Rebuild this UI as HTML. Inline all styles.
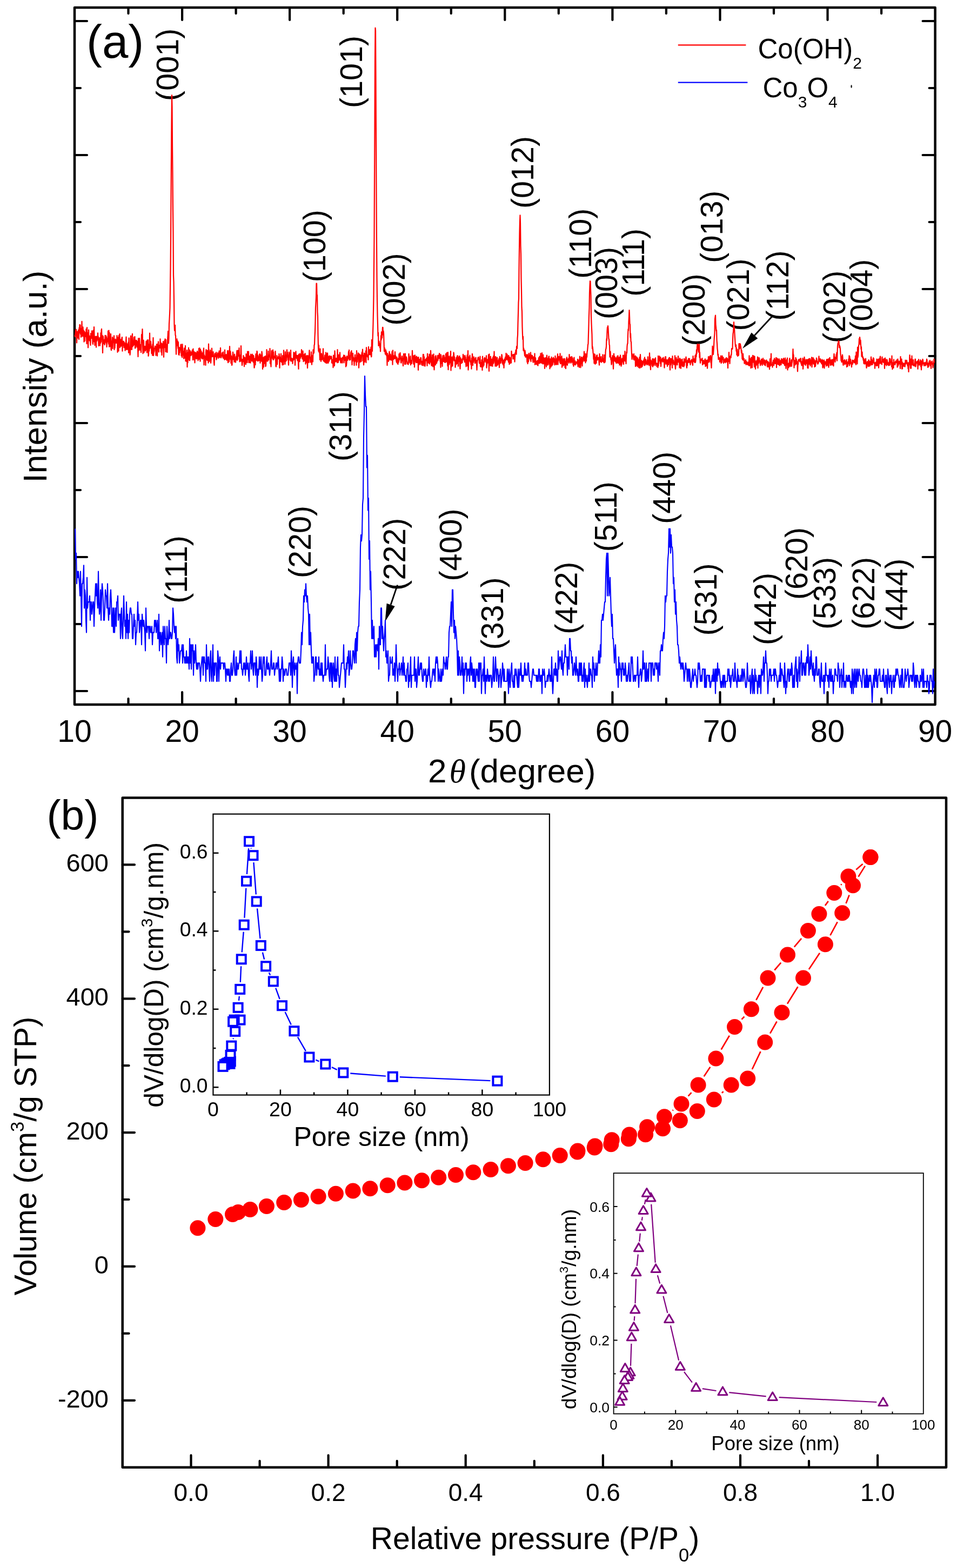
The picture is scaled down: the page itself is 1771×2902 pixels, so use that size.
<!DOCTYPE html>
<html><head><meta charset="utf-8"><title>XRD and BET</title>
<style>html,body{margin:0;padding:0;background:#fff}svg{display:block}</style></head>
<body><svg width="1771" height="2902" viewBox="0 0 1771 2902" font-family='"Liberation Sans", Arial, sans-serif' fill="#000">
<rect width="1771" height="2902" fill="#fff"/>
<rect x="138.0" y="14.0" width="1592.6" height="1290.0" fill="none" stroke="#000" stroke-width="4.5" stroke-linejoin="round"/>
<path d="M237.5 1304v-11M237.5 14v11M337.1 1304v-23M337.1 14v23M436.6 1304v-11M436.6 14v11M536.1 1304v-23M536.1 14v23M635.7 1304v-11M635.7 14v11M735.2 1304v-23M735.2 14v23M834.8 1304v-11M834.8 14v11M934.3 1304v-23M934.3 14v23M1033.8 1304v-11M1033.8 14v11M1133.4 1304v-23M1133.4 14v23M1232.9 1304v-11M1232.9 14v11M1332.5 1304v-23M1332.5 14v23M1432 1304v-11M1432 14v11M1531.5 1304v-23M1531.5 14v23M1631.1 1304v-11M1631.1 14v11M138 39h23M1730.6 39h-23M138 287h23M1730.6 287h-23M138 535h23M1730.6 535h-23M138 783h23M1730.6 783h-23M138 1031h23M1730.6 1031h-23M138 1279h23M1730.6 1279h-23M138 163h11M1730.6 163h-11M138 411h11M1730.6 411h-11M138 659h11M1730.6 659h-11M138 907h11M1730.6 907h-11M138 1155h11M1730.6 1155h-11" stroke="#000" stroke-width="4.2" fill="none" stroke-linecap="round"/>
<text x="138" y="1372.9" font-size="57" text-anchor="middle">10</text>
<text x="337.1" y="1372.9" font-size="57" text-anchor="middle">20</text>
<text x="536.1" y="1372.9" font-size="57" text-anchor="middle">30</text>
<text x="735.2" y="1372.9" font-size="57" text-anchor="middle">40</text>
<text x="934.3" y="1372.9" font-size="57" text-anchor="middle">50</text>
<text x="1133.4" y="1372.9" font-size="57" text-anchor="middle">60</text>
<text x="1332.5" y="1372.9" font-size="57" text-anchor="middle">70</text>
<text x="1531.5" y="1372.9" font-size="57" text-anchor="middle">80</text>
<text x="1730.6" y="1372.9" font-size="57" text-anchor="middle">90</text>
<text x="792" y="1448" font-size="62">2<tspan font-family="'Liberation Serif', serif" font-style="italic" dx="5">&#952;</tspan><tspan dx="6">(degree)</tspan></text>
<text transform="translate(86.4 697) rotate(-90)" font-size="62" text-anchor="middle">Intensity (a.u.)</text>
<text x="160" y="106.7" font-size="87">(a)</text>
<path d="M1254.8 83.3H1380.4" stroke="#f00" stroke-width="2.2"/>
<path d="M1254.8 152.7H1383.4" stroke="#00f" stroke-width="2.2"/>
<text x="1402.5" y="108.4" font-size="51">Co(OH)<tspan font-size="30" dy="19">2</tspan></text>
<ellipse cx="1575.6" cy="160" rx="1.2" ry="3" fill="#111"/>
<text x="1411.5" y="179.6" font-size="51">Co<tspan font-size="30" dy="19">3</tspan><tspan dy="-19">O</tspan><tspan font-size="30" dy="19">4</tspan></text>
<text transform="translate(329.7 119.8) rotate(-90)" font-size="57.5" text-anchor="middle">(001)</text>
<text transform="translate(670.4 133) rotate(-90)" font-size="57.5" text-anchor="middle">(101)</text>
<text transform="translate(602.3 455.2) rotate(-90)" font-size="57.5" text-anchor="middle">(100)</text>
<text transform="translate(748.8 535.5) rotate(-90)" font-size="57.5" text-anchor="middle">(002)</text>
<text transform="translate(986.9 319) rotate(-90)" font-size="57.5" text-anchor="middle">(012)</text>
<text transform="translate(1094.2 450.7) rotate(-90)" font-size="57.5" text-anchor="middle">(110)</text>
<text transform="translate(1142.4 524) rotate(-90)" font-size="57.5" text-anchor="middle">(003)</text>
<text transform="translate(1191.7 485.8) rotate(-90)" font-size="57.5" text-anchor="middle">(111)</text>
<text transform="translate(1303.5 573.5) rotate(-90)" font-size="57.5" text-anchor="middle">(200)</text>
<text transform="translate(1337.4 419.6) rotate(-90)" font-size="57.5" text-anchor="middle">(013)</text>
<text transform="translate(1385.5 545.4) rotate(-90)" font-size="57.5" text-anchor="middle">(021)</text>
<text transform="translate(1458.9 528.4) rotate(-90)" font-size="57.5" text-anchor="middle">(112)</text>
<text transform="translate(1563.5 567.8) rotate(-90)" font-size="57.5" text-anchor="middle">(202)</text>
<text transform="translate(1614.4 546.8) rotate(-90)" font-size="57.5" text-anchor="middle">(004)</text>
<text transform="translate(345.7 1054) rotate(-90)" font-size="57.5" text-anchor="middle">(111)</text>
<text transform="translate(575.1 1003) rotate(-90)" font-size="57.5" text-anchor="middle">(220)</text>
<text transform="translate(649.8 789) rotate(-90)" font-size="57.5" text-anchor="middle">(311)</text>
<text transform="translate(749.9 1025.8) rotate(-90)" font-size="57.5" text-anchor="middle">(222)</text>
<text transform="translate(853.7 1008.5) rotate(-90)" font-size="57.5" text-anchor="middle">(400)</text>
<text transform="translate(930.9 1135.5) rotate(-90)" font-size="57.5" text-anchor="middle">(331)</text>
<text transform="translate(1068.4 1106.6) rotate(-90)" font-size="57.5" text-anchor="middle">(422)</text>
<text transform="translate(1140.7 956.2) rotate(-90)" font-size="57.5" text-anchor="middle">(511)</text>
<text transform="translate(1248.9 902.7) rotate(-90)" font-size="57.5" text-anchor="middle">(440)</text>
<text transform="translate(1325.9 1109.4) rotate(-90)" font-size="57.5" text-anchor="middle">(531)</text>
<text transform="translate(1435.7 1127) rotate(-90)" font-size="57.5" text-anchor="middle">(442)</text>
<text transform="translate(1493.6 1043) rotate(-90)" font-size="57.5" text-anchor="middle">(620)</text>
<text transform="translate(1545.6 1098) rotate(-90)" font-size="57.5" text-anchor="middle">(533)</text>
<text transform="translate(1617.9 1098) rotate(-90)" font-size="57.5" text-anchor="middle">(622)</text>
<text transform="translate(1678.7 1100.7) rotate(-90)" font-size="57.5" text-anchor="middle">(444)</text>
<path d="M1429.7 584.7L1396.4 620.8" stroke="#000" stroke-width="2.8"/>
<path d="M1374.1 645.1L1390.6 615.4L1402.3 626.2Z" fill="#000"/>
<path d="M735.5 1082.6L723.1 1119.3" stroke="#000" stroke-width="2.8"/>
<path d="M712.6 1150.6L715.6 1116.8L730.7 1121.9Z" fill="#000"/>
<polyline points="138.5,620.0 139.0,623.2 139.5,617.2 140.0,610.8 140.5,615.4 141.0,609.8 141.5,620.9 142.0,634.4 142.5,615.2 143.0,613.9 143.5,625.6 144.0,624.2 144.5,621.6 145.0,610.9 145.5,620.3 146.0,628.0 146.5,606.7 147.0,616.0 147.5,600.9 148.0,607.4 148.5,601.7 149.0,618.5 149.5,607.8 150.0,623.9 150.5,622.7 151.0,619.2 151.5,594.9 152.0,615.6 152.5,620.8 153.0,622.5 153.5,605.4 154.0,616.4 154.5,611.3 155.0,613.1 155.5,632.6 156.0,613.2 156.5,621.3 157.0,630.9 157.5,615.6 158.0,620.6 158.5,623.0 159.0,622.5 159.5,609.2 160.0,622.7 160.5,636.2 161.0,606.2 161.5,631.3 162.0,623.7 162.5,616.0 163.0,643.5 163.5,630.8 164.0,610.6 164.5,624.0 165.0,629.3 165.5,621.5 166.0,630.7 166.5,623.0 167.0,630.8 167.5,638.9 168.0,617.1 168.5,626.4 169.0,619.6 169.5,625.9 170.0,612.4 170.5,618.8 171.0,622.9 171.5,634.4 172.0,637.1 172.5,611.7 173.0,617.3 173.5,632.3 174.0,605.2 174.5,621.1 175.0,625.1 175.5,639.2 176.0,633.4 176.5,623.1 177.0,622.8 177.5,624.2 178.0,642.6 178.5,622.6 179.0,624.0 179.5,630.9 180.0,626.2 180.5,625.5 181.0,616.3 181.5,627.7 182.0,623.4 182.5,640.1 183.0,635.0 183.5,628.1 184.0,635.4 184.5,625.2 185.0,639.6 185.5,628.9 186.0,635.1 186.5,616.0 187.0,632.9 187.5,612.2 188.0,608.8 188.5,626.6 189.0,620.7 189.5,631.7 190.0,653.1 190.5,621.8 191.0,624.1 191.5,632.7 192.0,635.8 192.5,629.1 193.0,628.9 193.5,638.3 194.0,636.6 194.5,620.9 195.0,630.7 195.5,632.0 196.0,621.1 196.5,634.6 197.0,623.3 197.5,642.1 198.0,634.3 198.5,633.4 199.0,626.6 199.5,631.6 200.0,612.6 200.5,621.5 201.0,636.7 201.5,611.5 202.0,641.8 202.5,615.5 203.0,641.0 203.5,624.8 204.0,641.3 204.5,634.8 205.0,618.0 205.5,646.3 206.0,648.3 206.5,633.1 207.0,631.1 207.5,632.3 208.0,624.1 208.5,645.2 209.0,628.6 209.5,633.6 210.0,626.2 210.5,628.0 211.0,621.4 211.5,647.1 212.0,632.9 212.5,644.3 213.0,634.8 213.5,627.7 214.0,631.4 214.5,629.2 215.0,635.0 215.5,631.2 216.0,632.0 216.5,621.2 217.0,627.0 217.5,651.9 218.0,628.5 218.5,624.7 219.0,638.8 219.5,649.7 220.0,620.9 220.5,633.5 221.0,629.3 221.5,618.0 222.0,643.2 222.5,635.6 223.0,636.6 223.5,628.4 224.0,640.6 224.5,630.7 225.0,634.8 225.5,625.1 226.0,624.1 226.5,649.8 227.0,631.4 227.5,639.4 228.0,636.2 228.5,632.2 229.0,631.6 229.5,643.1 230.0,633.8 230.5,635.4 231.0,637.2 231.5,648.8 232.0,643.9 232.5,641.0 233.0,631.6 233.5,623.5 234.0,646.9 234.5,647.1 235.0,636.1 235.5,643.0 236.0,645.4 236.5,646.0 237.0,647.0 237.5,633.3 238.0,653.0 238.5,625.5 239.0,646.6 239.5,643.0 240.0,646.8 240.5,656.9 241.0,653.1 241.5,626.9 242.0,621.6 242.5,646.6 243.0,628.4 243.5,638.5 244.0,647.0 244.5,622.4 245.0,617.8 245.5,641.4 246.0,639.3 246.5,636.5 247.0,639.4 247.5,630.5 248.0,624.1 248.5,637.6 249.0,629.6 249.5,623.0 250.0,644.4 250.5,638.9 251.0,643.6 251.5,629.8 252.0,633.1 252.5,629.8 253.0,631.0 253.5,641.8 254.0,632.2 254.5,643.5 255.0,643.4 255.5,660.1 256.0,626.4 256.5,649.0 257.0,639.4 257.5,640.2 258.0,626.1 258.5,635.9 259.0,647.9 259.5,639.8 260.0,641.5 260.5,637.8 261.0,652.2 261.5,640.6 262.0,619.2 262.5,634.1 263.0,621.6 263.5,609.0 264.0,635.8 264.5,654.3 265.0,641.6 265.5,629.7 266.0,632.0 266.5,652.4 267.0,642.9 267.5,641.9 268.0,640.9 268.5,641.9 269.0,649.5 269.5,647.0 270.0,643.8 270.5,631.5 271.0,646.8 271.5,635.1 272.0,652.6 272.5,629.4 273.0,640.6 273.5,641.9 274.0,629.1 274.5,659.0 275.0,656.4 275.5,637.6 276.0,649.8 276.5,646.0 277.0,616.7 277.5,644.8 278.0,641.8 278.5,643.2 279.0,631.9 279.5,639.9 280.0,640.8 280.5,654.2 281.0,645.9 281.5,642.6 282.0,657.6 282.5,637.3 283.0,639.0 283.5,625.1 284.0,658.1 284.5,652.3 285.0,651.8 285.5,649.4 286.0,644.0 286.5,645.1 287.0,640.5 287.5,641.0 288.0,643.6 288.5,657.8 289.0,648.5 289.5,642.5 290.0,637.4 290.5,636.9 291.0,658.7 291.5,648.0 292.0,643.7 292.5,639.7 293.0,632.3 293.5,642.4 294.0,651.5 294.5,639.2 295.0,640.8 295.5,640.8 296.0,644.0 296.5,627.4 297.0,640.5 297.5,634.4 298.0,651.3 298.5,635.1 299.0,648.1 299.5,657.3 300.0,639.2 300.5,636.3 301.0,643.9 301.5,641.8 302.0,632.0 302.5,646.0 303.0,660.9 303.5,638.4 304.0,638.7 304.5,630.1 305.0,643.1 305.5,627.3 306.0,628.2 306.5,651.0 307.0,628.9 307.5,647.7 308.0,651.2 308.5,637.8 309.0,639.5 309.5,652.1 310.0,629.1 310.5,623.2 311.0,613.2 311.5,624.4 312.0,635.5 312.5,625.6 313.0,599.4 313.5,591.0 314.0,581.1 314.5,569.7 315.0,534.4 315.5,497.8 316.0,443.7 316.5,366.8 317.0,294.8 317.5,229.2 318.0,176.0 318.5,197.8 319.0,269.6 319.5,320.3 320.0,387.0 320.5,429.9 321.0,510.4 321.5,522.0 322.0,556.9 322.5,600.8 323.0,611.8 323.5,611.5 324.0,601.9 324.5,620.3 325.0,621.0 325.5,637.1 326.0,655.7 326.5,637.6 327.0,629.6 327.5,627.4 328.0,639.7 328.5,639.8 329.0,631.4 329.5,644.8 330.0,633.4 330.5,656.1 331.0,656.3 331.5,657.2 332.0,643.0 332.5,653.0 333.0,647.4 333.5,645.6 334.0,646.5 334.5,638.1 335.0,637.3 335.5,658.4 336.0,649.8 336.5,653.9 337.0,661.4 337.5,637.0 338.0,646.0 338.5,655.0 339.0,657.3 339.5,650.7 340.0,663.6 340.5,656.6 341.0,644.4 341.5,647.2 342.0,662.7 342.5,660.0 343.0,639.8 343.5,668.2 344.0,662.0 344.5,668.7 345.0,654.1 345.5,655.0 346.0,648.0 346.5,679.3 347.0,656.2 347.5,671.3 348.0,652.3 348.5,659.3 349.0,643.7 349.5,654.7 350.0,666.4 350.5,647.5 351.0,667.3 351.5,661.1 352.0,649.4 352.5,654.0 353.0,654.4 353.5,658.0 354.0,653.9 354.5,651.4 355.0,655.9 355.5,649.8 356.0,647.7 356.5,658.2 357.0,666.1 357.5,645.7 358.0,658.7 358.5,653.3 359.0,650.5 359.5,666.0 360.0,654.5 360.5,671.5 361.0,652.3 361.5,662.2 362.0,657.1 362.5,652.6 363.0,664.0 363.5,657.8 364.0,664.2 364.5,658.7 365.0,650.0 365.5,658.3 366.0,659.7 366.5,667.3 367.0,651.6 367.5,659.0 368.0,644.8 368.5,664.8 369.0,650.3 369.5,644.2 370.0,658.9 370.5,668.7 371.0,646.7 371.5,650.4 372.0,653.3 372.5,650.1 373.0,662.8 373.5,652.8 374.0,653.6 374.5,664.5 375.0,653.3 375.5,663.3 376.0,651.6 376.5,649.6 377.0,644.4 377.5,675.4 378.0,657.1 378.5,661.9 379.0,659.6 379.5,661.2 380.0,660.3 380.5,675.9 381.0,651.3 381.5,647.0 382.0,651.5 382.5,648.9 383.0,666.3 383.5,666.9 384.0,652.1 384.5,648.5 385.0,657.2 385.5,671.7 386.0,636.7 386.5,664.6 387.0,651.2 387.5,668.9 388.0,651.3 388.5,657.9 389.0,647.8 389.5,652.2 390.0,671.8 390.5,667.2 391.0,657.0 391.5,653.2 392.0,644.7 392.5,657.1 393.0,660.2 393.5,659.8 394.0,659.7 394.5,651.2 395.0,660.0 395.5,660.2 396.0,671.2 396.5,676.0 397.0,659.5 397.5,654.3 398.0,660.1 398.5,655.6 399.0,654.5 399.5,660.2 400.0,652.1 400.5,665.7 401.0,659.9 401.5,662.8 402.0,659.3 402.5,654.8 403.0,653.0 403.5,658.9 404.0,656.3 404.5,662.8 405.0,660.9 405.5,649.7 406.0,661.5 406.5,649.9 407.0,655.9 407.5,658.6 408.0,643.9 408.5,661.8 409.0,662.3 409.5,659.8 410.0,657.6 410.5,658.0 411.0,653.1 411.5,658.9 412.0,656.6 412.5,661.9 413.0,651.3 413.5,663.2 414.0,662.4 414.5,660.1 415.0,657.7 415.5,665.8 416.0,647.7 416.5,665.1 417.0,663.3 417.5,663.7 418.0,664.5 418.5,656.1 419.0,659.3 419.5,666.7 420.0,665.0 420.5,663.2 421.0,649.1 421.5,665.9 422.0,671.1 422.5,669.8 423.0,663.5 423.5,648.9 424.0,669.3 424.5,660.4 425.0,641.0 425.5,664.7 426.0,649.5 426.5,651.1 427.0,656.5 427.5,672.1 428.0,658.7 428.5,664.0 429.0,676.0 429.5,674.8 430.0,661.0 430.5,659.9 431.0,651.6 431.5,656.2 432.0,665.4 432.5,665.1 433.0,662.8 433.5,670.0 434.0,655.7 434.5,661.5 435.0,667.9 435.5,666.8 436.0,670.7 436.5,665.3 437.0,659.6 437.5,665.0 438.0,654.0 438.5,648.9 439.0,666.8 439.5,661.7 440.0,664.7 440.5,648.5 441.0,659.3 441.5,657.4 442.0,655.3 442.5,644.1 443.0,659.6 443.5,669.5 444.0,665.4 444.5,657.5 445.0,662.2 445.5,668.5 446.0,640.1 446.5,661.4 447.0,666.8 447.5,667.9 448.0,676.2 448.5,671.6 449.0,665.0 449.5,664.9 450.0,668.9 450.5,658.2 451.0,662.2 451.5,669.9 452.0,678.3 452.5,661.3 453.0,662.3 453.5,664.3 454.0,673.5 454.5,662.4 455.0,674.5 455.5,655.0 456.0,661.3 456.5,661.2 457.0,669.1 457.5,671.2 458.0,650.7 458.5,655.5 459.0,665.5 459.5,657.6 460.0,650.7 460.5,671.2 461.0,666.8 461.5,666.8 462.0,659.1 462.5,671.1 463.0,661.0 463.5,671.7 464.0,655.6 464.5,656.1 465.0,664.6 465.5,657.3 466.0,668.3 466.5,665.0 467.0,655.6 467.5,663.5 468.0,660.2 468.5,670.3 469.0,657.9 469.5,659.5 470.0,672.6 470.5,680.8 471.0,678.9 471.5,663.5 472.0,664.7 472.5,675.2 473.0,662.0 473.5,655.2 474.0,663.9 474.5,666.6 475.0,656.4 475.5,649.9 476.0,651.6 476.5,668.3 477.0,657.0 477.5,661.9 478.0,664.7 478.5,667.9 479.0,660.4 479.5,667.0 480.0,656.0 480.5,660.2 481.0,654.9 481.5,672.0 482.0,662.9 482.5,657.2 483.0,660.3 483.5,661.3 484.0,668.6 484.5,650.5 485.0,654.9 485.5,660.1 486.0,683.1 486.5,670.6 487.0,662.2 487.5,668.7 488.0,679.3 488.5,661.3 489.0,660.2 489.5,672.7 490.0,667.0 490.5,668.4 491.0,659.1 491.5,678.3 492.0,676.6 492.5,667.6 493.0,668.5 493.5,647.2 494.0,668.2 494.5,661.6 495.0,666.6 495.5,668.5 496.0,660.5 496.5,649.9 497.0,666.1 497.5,657.4 498.0,660.6 498.5,658.4 499.0,660.5 499.5,645.1 500.0,672.7 500.5,665.2 501.0,671.9 501.5,678.7 502.0,663.4 502.5,649.1 503.0,656.2 503.5,653.8 504.0,659.3 504.5,663.9 505.0,647.6 505.5,665.9 506.0,651.4 506.5,665.6 507.0,662.4 507.5,660.8 508.0,662.7 508.5,659.0 509.0,658.5 509.5,650.1 510.0,663.0 510.5,677.6 511.0,678.7 511.5,673.6 512.0,668.8 512.5,658.0 513.0,674.5 513.5,662.8 514.0,662.8 514.5,661.0 515.0,664.0 515.5,659.9 516.0,662.7 516.5,654.9 517.0,660.4 517.5,681.0 518.0,662.8 518.5,661.5 519.0,667.4 519.5,668.8 520.0,654.7 520.5,661.7 521.0,670.4 521.5,665.4 522.0,664.3 522.5,675.4 523.0,658.1 523.5,664.0 524.0,659.3 524.5,674.9 525.0,648.3 525.5,658.2 526.0,659.3 526.5,668.5 527.0,668.0 527.5,674.1 528.0,651.2 528.5,669.2 529.0,661.1 529.5,658.2 530.0,667.5 530.5,656.3 531.0,647.4 531.5,660.5 532.0,651.8 532.5,658.4 533.0,666.2 533.5,665.8 534.0,675.6 534.5,661.8 535.0,651.6 535.5,657.6 536.0,656.3 536.5,654.0 537.0,666.7 537.5,658.4 538.0,648.2 538.5,668.7 539.0,662.5 539.5,666.1 540.0,664.2 540.5,668.2 541.0,663.7 541.5,672.9 542.0,666.6 542.5,666.4 543.0,666.5 543.5,652.2 544.0,662.1 544.5,661.4 545.0,665.0 545.5,653.0 546.0,675.9 546.5,664.2 547.0,654.1 547.5,650.3 548.0,661.2 548.5,662.7 549.0,657.9 549.5,664.0 550.0,658.4 550.5,667.5 551.0,657.8 551.5,663.0 552.0,670.8 552.5,682.9 553.0,655.6 553.5,659.7 554.0,656.9 554.5,669.2 555.0,654.5 555.5,659.6 556.0,663.0 556.5,655.8 557.0,655.9 557.5,659.6 558.0,647.2 558.5,652.2 559.0,660.0 559.5,664.3 560.0,661.7 560.5,649.6 561.0,659.5 561.5,669.1 562.0,667.2 562.5,662.4 563.0,656.2 563.5,667.7 564.0,658.5 564.5,654.0 565.0,656.7 565.5,673.8 566.0,664.4 566.5,671.5 567.0,659.0 567.5,669.7 568.0,657.9 568.5,661.2 569.0,681.2 569.5,668.1 570.0,658.4 570.5,661.4 571.0,664.4 571.5,671.0 572.0,658.0 572.5,648.4 573.0,659.3 573.5,661.3 574.0,661.8 574.5,670.7 575.0,662.9 575.5,666.3 576.0,651.4 576.5,665.9 577.0,674.8 577.5,664.2 578.0,659.5 578.5,657.9 579.0,669.4 579.5,647.3 580.0,651.8 580.5,653.9 581.0,652.7 581.5,638.6 582.0,637.7 582.5,623.6 583.0,614.5 583.5,596.7 584.0,569.3 584.5,559.7 585.0,550.4 585.5,524.5 586.0,524.5 586.5,545.4 587.0,546.2 587.5,577.3 588.0,585.2 588.5,620.1 589.0,642.6 589.5,649.8 590.0,639.2 590.5,651.9 591.0,650.7 591.5,653.1 592.0,666.0 592.5,645.6 593.0,664.7 593.5,657.2 594.0,668.9 594.5,660.3 595.0,654.3 595.5,661.9 596.0,665.7 596.5,660.8 597.0,664.5 597.5,657.2 598.0,645.3 598.5,668.2 599.0,666.9 599.5,663.0 600.0,662.5 600.5,669.9 601.0,658.8 601.5,657.1 602.0,661.1 602.5,671.4 603.0,652.3 603.5,671.6 604.0,658.0 604.5,654.7 605.0,672.3 605.5,662.3 606.0,653.4 606.5,660.4 607.0,670.0 607.5,672.0 608.0,660.0 608.5,666.2 609.0,668.6 609.5,658.5 610.0,666.0 610.5,663.1 611.0,659.4 611.5,659.8 612.0,663.9 612.5,663.7 613.0,659.3 613.5,660.4 614.0,671.7 614.5,665.1 615.0,670.1 615.5,672.4 616.0,667.9 616.5,680.3 617.0,657.6 617.5,669.6 618.0,661.3 618.5,677.3 619.0,676.2 619.5,649.3 620.0,656.6 620.5,668.6 621.0,669.5 621.5,669.2 622.0,663.2 622.5,667.1 623.0,668.6 623.5,663.2 624.0,671.3 624.5,647.2 625.0,668.4 625.5,656.2 626.0,670.8 626.5,662.2 627.0,657.3 627.5,666.6 628.0,657.2 628.5,657.2 629.0,652.4 629.5,663.7 630.0,667.5 630.5,671.3 631.0,662.8 631.5,671.5 632.0,664.0 632.5,663.2 633.0,668.1 633.5,671.6 634.0,661.4 634.5,662.1 635.0,662.7 635.5,664.5 636.0,657.3 636.5,671.4 637.0,661.0 637.5,667.3 638.0,657.9 638.5,666.5 639.0,666.7 639.5,660.8 640.0,678.6 640.5,666.6 641.0,676.8 641.5,670.8 642.0,659.1 642.5,661.1 643.0,667.0 643.5,664.3 644.0,664.2 644.5,661.8 645.0,650.8 645.5,662.2 646.0,647.8 646.5,666.5 647.0,658.6 647.5,658.7 648.0,662.2 648.5,665.8 649.0,653.5 649.5,651.2 650.0,656.1 650.5,649.1 651.0,656.8 651.5,675.3 652.0,656.1 652.5,668.5 653.0,653.9 653.5,665.9 654.0,661.4 654.5,663.3 655.0,667.8 655.5,676.3 656.0,665.1 656.5,664.5 657.0,656.6 657.5,667.8 658.0,661.8 658.5,669.5 659.0,663.2 659.5,676.0 660.0,649.2 660.5,661.3 661.0,669.8 661.5,660.9 662.0,657.7 662.5,661.4 663.0,653.4 663.5,664.1 664.0,680.8 664.5,671.4 665.0,655.2 665.5,656.9 666.0,660.2 666.5,670.2 667.0,657.1 667.5,658.0 668.0,669.2 668.5,669.0 669.0,660.1 669.5,654.7 670.0,651.5 670.5,657.5 671.0,646.5 671.5,667.7 672.0,657.7 672.5,665.6 673.0,675.4 673.5,670.3 674.0,653.5 674.5,667.9 675.0,669.8 675.5,656.0 676.0,654.3 676.5,660.2 677.0,649.3 677.5,671.1 678.0,643.1 678.5,652.1 679.0,657.8 679.5,657.8 680.0,660.3 680.5,660.7 681.0,656.8 681.5,666.0 682.0,641.9 682.5,656.7 683.0,650.9 683.5,656.2 684.0,656.0 684.5,646.8 685.0,647.6 685.5,656.7 686.0,652.0 686.5,642.6 687.0,660.5 687.5,660.0 688.0,628.8 688.5,638.1 689.0,650.0 689.5,630.5 690.0,617.1 690.5,600.2 691.0,576.7 691.5,547.2 692.0,495.2 692.5,438.7 693.0,334.9 693.5,226.2 694.0,110.6 694.5,51.6 695.0,56.5 695.5,143.5 696.0,266.4 696.5,363.0 697.0,451.1 697.5,514.2 698.0,556.1 698.5,583.9 699.0,601.2 699.5,621.7 700.0,615.6 700.5,639.9 701.0,634.3 701.5,631.7 702.0,636.0 702.5,636.4 703.0,643.5 703.5,637.3 704.0,650.5 704.5,634.9 705.0,621.2 705.5,629.0 706.0,614.4 706.5,623.4 707.0,625.4 707.5,615.9 708.0,605.8 708.5,605.8 709.0,619.4 709.5,612.6 710.0,617.1 710.5,632.6 711.0,650.2 711.5,647.7 712.0,644.4 712.5,650.2 713.0,655.4 713.5,649.0 714.0,647.7 714.5,657.0 715.0,651.0 715.5,658.1 716.0,659.8 716.5,676.2 717.0,654.1 717.5,659.7 718.0,659.7 718.5,664.2 719.0,668.8 719.5,658.2 720.0,656.1 720.5,650.6 721.0,655.8 721.5,666.2 722.0,662.9 722.5,655.6 723.0,660.2 723.5,663.2 724.0,666.6 724.5,659.0 725.0,661.5 725.5,650.7 726.0,655.4 726.5,674.8 727.0,648.4 727.5,661.3 728.0,665.3 728.5,661.2 729.0,658.3 729.5,663.5 730.0,664.0 730.5,663.5 731.0,651.1 731.5,663.1 732.0,658.3 732.5,660.4 733.0,665.9 733.5,668.8 734.0,670.6 734.5,661.0 735.0,670.8 735.5,672.6 736.0,672.4 736.5,674.2 737.0,663.6 737.5,663.4 738.0,670.4 738.5,655.2 739.0,666.2 739.5,661.1 740.0,662.2 740.5,652.8 741.0,658.7 741.5,664.7 742.0,671.0 742.5,671.7 743.0,664.4 743.5,663.6 744.0,659.2 744.5,667.7 745.0,663.3 745.5,669.2 746.0,677.1 746.5,664.8 747.0,654.8 747.5,659.2 748.0,655.1 748.5,656.9 749.0,674.1 749.5,666.7 750.0,654.7 750.5,669.7 751.0,673.9 751.5,662.8 752.0,660.6 752.5,663.0 753.0,667.2 753.5,669.7 754.0,673.4 754.5,673.7 755.0,673.5 755.5,674.7 756.0,669.9 756.5,654.9 757.0,664.5 757.5,667.6 758.0,662.8 758.5,671.7 759.0,663.0 759.5,659.1 760.0,675.4 760.5,670.1 761.0,667.0 761.5,671.9 762.0,672.8 762.5,667.9 763.0,648.8 763.5,661.0 764.0,662.5 764.5,658.9 765.0,667.0 765.5,673.8 766.0,662.3 766.5,657.9 767.0,679.5 767.5,662.6 768.0,657.3 768.5,667.3 769.0,668.6 769.5,660.9 770.0,671.1 770.5,662.4 771.0,659.5 771.5,667.0 772.0,671.0 772.5,661.5 773.0,668.0 773.5,665.2 774.0,685.0 774.5,661.0 775.0,675.3 775.5,665.5 776.0,665.0 776.5,670.8 777.0,672.0 777.5,674.5 778.0,668.1 778.5,661.8 779.0,662.3 779.5,669.4 780.0,669.9 780.5,675.4 781.0,668.8 781.5,673.2 782.0,676.3 782.5,667.1 783.0,655.9 783.5,658.0 784.0,656.3 784.5,676.8 785.0,660.3 785.5,674.4 786.0,670.0 786.5,677.7 787.0,672.9 787.5,665.4 788.0,664.7 788.5,666.7 789.0,667.3 789.5,662.5 790.0,665.9 790.5,677.0 791.0,654.6 791.5,667.9 792.0,660.0 792.5,667.4 793.0,671.9 793.5,665.8 794.0,671.4 794.5,655.5 795.0,673.7 795.5,662.2 796.0,670.4 796.5,667.5 797.0,648.8 797.5,661.2 798.0,667.8 798.5,676.8 799.0,668.2 799.5,668.0 800.0,656.8 800.5,675.9 801.0,678.5 801.5,666.5 802.0,664.9 802.5,655.4 803.0,672.3 803.5,684.5 804.0,671.2 804.5,674.9 805.0,670.0 805.5,659.8 806.0,675.4 806.5,658.1 807.0,665.0 807.5,668.3 808.0,672.4 808.5,669.2 809.0,669.0 809.5,661.4 810.0,657.8 810.5,666.9 811.0,661.7 811.5,657.7 812.0,658.0 812.5,663.2 813.0,654.1 813.5,657.5 814.0,655.6 814.5,667.8 815.0,669.3 815.5,680.0 816.0,656.5 816.5,662.0 817.0,672.7 817.5,665.1 818.0,664.4 818.5,678.0 819.0,664.4 819.5,658.9 820.0,657.8 820.5,668.9 821.0,668.7 821.5,657.5 822.0,660.1 822.5,670.2 823.0,670.5 823.5,662.4 824.0,670.8 824.5,670.5 825.0,654.8 825.5,664.6 826.0,669.5 826.5,662.9 827.0,652.5 827.5,664.9 828.0,671.8 828.5,677.3 829.0,652.2 829.5,684.2 830.0,659.3 830.5,673.2 831.0,675.0 831.5,673.3 832.0,667.8 832.5,659.1 833.0,671.0 833.5,662.1 834.0,650.1 834.5,685.6 835.0,671.6 835.5,678.9 836.0,660.8 836.5,676.6 837.0,677.4 837.5,677.2 838.0,666.8 838.5,658.9 839.0,665.7 839.5,652.3 840.0,655.7 840.5,667.6 841.0,660.4 841.5,665.9 842.0,666.2 842.5,679.8 843.0,675.6 843.5,666.7 844.0,675.0 844.5,661.8 845.0,664.8 845.5,673.0 846.0,658.8 846.5,665.2 847.0,658.3 847.5,667.8 848.0,677.8 848.5,662.1 849.0,668.6 849.5,661.1 850.0,659.5 850.5,658.9 851.0,676.7 851.5,682.7 852.0,670.3 852.5,662.4 853.0,671.8 853.5,664.9 854.0,672.4 854.5,669.1 855.0,669.0 855.5,671.2 856.0,663.3 856.5,664.5 857.0,655.8 857.5,664.3 858.0,657.8 858.5,666.2 859.0,660.9 859.5,667.9 860.0,670.2 860.5,657.9 861.0,661.9 861.5,661.0 862.0,672.2 862.5,678.5 863.0,672.9 863.5,665.0 864.0,676.9 864.5,657.3 865.0,677.1 865.5,663.0 866.0,649.1 866.5,684.7 867.0,677.7 867.5,660.6 868.0,668.4 868.5,665.9 869.0,668.0 869.5,657.6 870.0,662.9 870.5,670.4 871.0,668.8 871.5,675.2 872.0,667.9 872.5,682.8 873.0,662.7 873.5,669.1 874.0,654.9 874.5,659.2 875.0,676.1 875.5,661.3 876.0,670.9 876.5,667.0 877.0,660.6 877.5,665.2 878.0,664.1 878.5,664.3 879.0,672.4 879.5,671.7 880.0,663.7 880.5,661.6 881.0,669.3 881.5,666.8 882.0,674.2 882.5,684.8 883.0,673.0 883.5,667.3 884.0,666.4 884.5,662.0 885.0,661.6 885.5,661.0 886.0,665.0 886.5,664.8 887.0,672.4 887.5,665.0 888.0,666.3 888.5,659.7 889.0,678.3 889.5,670.9 890.0,679.2 890.5,672.8 891.0,677.3 891.5,666.0 892.0,672.3 892.5,685.2 893.0,659.7 893.5,675.3 894.0,678.6 894.5,670.4 895.0,672.6 895.5,675.9 896.0,663.3 896.5,670.4 897.0,661.9 897.5,663.2 898.0,663.6 898.5,666.7 899.0,668.6 899.5,670.7 900.0,658.3 900.5,680.8 901.0,675.3 901.5,672.5 902.0,665.3 902.5,667.1 903.0,671.3 903.5,670.4 904.0,656.5 904.5,672.6 905.0,687.0 905.5,655.4 906.0,674.2 906.5,670.1 907.0,666.9 907.5,676.7 908.0,659.8 908.5,668.7 909.0,677.3 909.5,666.3 910.0,664.9 910.5,668.4 911.0,664.7 911.5,677.9 912.0,661.6 912.5,673.4 913.0,659.3 913.5,672.0 914.0,666.9 914.5,650.5 915.0,667.5 915.5,660.5 916.0,664.6 916.5,677.7 917.0,660.2 917.5,660.5 918.0,677.1 918.5,668.3 919.0,677.7 919.5,669.7 920.0,661.7 920.5,667.1 921.0,675.6 921.5,673.7 922.0,667.5 922.5,667.8 923.0,666.7 923.5,663.6 924.0,680.2 924.5,667.5 925.0,659.9 925.5,664.2 926.0,672.1 926.5,671.6 927.0,666.4 927.5,662.9 928.0,667.4 928.5,656.2 929.0,658.7 929.5,672.5 930.0,664.0 930.5,669.6 931.0,675.2 931.5,671.4 932.0,667.2 932.5,681.0 933.0,671.4 933.5,664.6 934.0,671.7 934.5,669.6 935.0,661.2 935.5,667.3 936.0,665.7 936.5,653.8 937.0,665.5 937.5,664.7 938.0,663.7 938.5,655.7 939.0,664.1 939.5,666.1 940.0,666.9 940.5,658.7 941.0,670.2 941.5,658.0 942.0,664.4 942.5,674.3 943.0,661.1 943.5,662.1 944.0,672.4 944.5,662.7 945.0,663.1 945.5,666.3 946.0,671.6 946.5,649.9 947.0,658.7 947.5,657.3 948.0,656.5 948.5,657.7 949.0,657.4 949.5,664.5 950.0,656.2 950.5,662.4 951.0,663.7 951.5,655.6 952.0,660.6 952.5,669.7 953.0,660.1 953.5,652.6 954.0,655.1 954.5,647.9 955.0,653.9 955.5,655.6 956.0,641.2 956.5,641.3 957.0,645.0 957.5,626.2 958.0,620.7 958.5,597.8 959.0,580.7 959.5,559.6 960.0,553.0 960.5,499.2 961.0,463.3 961.5,430.2 962.0,409.7 962.5,398.3 963.0,413.1 963.5,454.5 964.0,469.9 964.5,515.0 965.0,537.5 965.5,568.4 966.0,576.3 966.5,604.5 967.0,619.0 967.5,628.1 968.0,622.8 968.5,648.7 969.0,644.3 969.5,647.0 970.0,650.5 970.5,652.6 971.0,658.3 971.5,648.7 972.0,652.1 972.5,660.9 973.0,660.8 973.5,658.1 974.0,657.5 974.5,656.4 975.0,661.9 975.5,670.2 976.0,656.4 976.5,673.1 977.0,669.2 977.5,661.2 978.0,669.3 978.5,655.4 979.0,653.9 979.5,656.9 980.0,662.7 980.5,663.4 981.0,662.3 981.5,666.4 982.0,652.4 982.5,669.1 983.0,657.2 983.5,662.1 984.0,663.7 984.5,659.2 985.0,657.9 985.5,660.3 986.0,666.6 986.5,670.5 987.0,670.4 987.5,660.7 988.0,662.0 988.5,661.3 989.0,669.9 989.5,654.4 990.0,674.9 990.5,664.2 991.0,662.4 991.5,669.4 992.0,673.8 992.5,669.5 993.0,674.0 993.5,668.3 994.0,675.2 994.5,675.3 995.0,667.0 995.5,676.6 996.0,668.7 996.5,668.2 997.0,662.0 997.5,665.9 998.0,672.6 998.5,659.6 999.0,671.8 999.5,670.0 1000.0,669.6 1000.5,654.2 1001.0,667.2 1001.5,671.9 1002.0,663.2 1002.5,668.5 1003.0,653.2 1003.5,672.1 1004.0,663.9 1004.5,673.4 1005.0,656.6 1005.5,672.3 1006.0,666.6 1006.5,673.1 1007.0,662.3 1007.5,664.3 1008.0,682.0 1008.5,663.0 1009.0,663.8 1009.5,666.4 1010.0,661.8 1010.5,675.5 1011.0,678.8 1011.5,663.8 1012.0,657.5 1012.5,675.5 1013.0,675.1 1013.5,673.3 1014.0,675.4 1014.5,662.9 1015.0,667.2 1015.5,659.7 1016.0,659.5 1016.5,674.3 1017.0,664.1 1017.5,682.4 1018.0,668.8 1018.5,664.4 1019.0,673.2 1019.5,679.4 1020.0,671.3 1020.5,660.8 1021.0,670.6 1021.5,676.8 1022.0,665.3 1022.5,663.6 1023.0,674.6 1023.5,669.2 1024.0,661.6 1024.5,666.0 1025.0,663.7 1025.5,670.2 1026.0,669.1 1026.5,675.5 1027.0,672.8 1027.5,658.8 1028.0,670.9 1028.5,673.9 1029.0,671.2 1029.5,674.8 1030.0,665.1 1030.5,662.6 1031.0,674.2 1031.5,661.9 1032.0,655.2 1032.5,674.7 1033.0,664.0 1033.5,666.6 1034.0,659.9 1034.5,660.3 1035.0,661.4 1035.5,666.3 1036.0,670.7 1036.5,654.4 1037.0,673.1 1037.5,661.2 1038.0,661.9 1038.5,672.6 1039.0,668.0 1039.5,659.1 1040.0,679.8 1040.5,663.2 1041.0,670.0 1041.5,669.7 1042.0,677.1 1042.5,665.7 1043.0,674.7 1043.5,663.9 1044.0,675.4 1044.5,663.8 1045.0,666.3 1045.5,680.1 1046.0,670.4 1046.5,669.2 1047.0,682.2 1047.5,670.7 1048.0,663.5 1048.5,673.0 1049.0,661.3 1049.5,675.4 1050.0,675.8 1050.5,665.0 1051.0,664.6 1051.5,669.5 1052.0,668.5 1052.5,662.5 1053.0,671.9 1053.5,656.0 1054.0,665.8 1054.5,666.0 1055.0,666.8 1055.5,670.3 1056.0,660.9 1056.5,672.0 1057.0,667.3 1057.5,664.4 1058.0,660.0 1058.5,661.2 1059.0,670.5 1059.5,662.5 1060.0,668.7 1060.5,674.8 1061.0,674.6 1061.5,677.8 1062.0,666.5 1062.5,661.6 1063.0,674.4 1063.5,670.1 1064.0,675.0 1064.5,668.2 1065.0,675.4 1065.5,673.3 1066.0,672.5 1066.5,671.1 1067.0,670.5 1067.5,669.4 1068.0,669.3 1068.5,674.0 1069.0,664.8 1069.5,678.4 1070.0,667.2 1070.5,673.8 1071.0,667.2 1071.5,666.2 1072.0,680.0 1072.5,665.7 1073.0,659.7 1073.5,663.0 1074.0,665.4 1074.5,680.3 1075.0,668.4 1075.5,672.7 1076.0,660.8 1076.5,668.9 1077.0,670.7 1077.5,677.4 1078.0,662.1 1078.5,669.8 1079.0,667.8 1079.5,659.5 1080.0,665.3 1080.5,663.5 1081.0,650.6 1081.5,668.1 1082.0,667.3 1082.5,660.8 1083.0,654.7 1083.5,671.4 1084.0,663.1 1084.5,666.8 1085.0,668.1 1085.5,654.7 1086.0,661.0 1086.5,651.8 1087.0,649.3 1087.5,644.1 1088.0,637.9 1088.5,636.2 1089.0,618.1 1089.5,601.7 1090.0,583.8 1090.5,569.7 1091.0,541.7 1091.5,529.1 1092.0,520.0 1092.5,521.0 1093.0,534.8 1093.5,547.5 1094.0,585.6 1094.5,598.8 1095.0,609.0 1095.5,619.4 1096.0,645.2 1096.5,641.4 1097.0,645.2 1097.5,652.3 1098.0,655.7 1098.5,665.0 1099.0,658.0 1099.5,672.4 1100.0,655.2 1100.5,665.8 1101.0,656.1 1101.5,673.9 1102.0,661.4 1102.5,663.5 1103.0,669.9 1103.5,672.2 1104.0,658.2 1104.5,663.1 1105.0,657.0 1105.5,666.4 1106.0,665.2 1106.5,663.8 1107.0,661.9 1107.5,663.9 1108.0,661.8 1108.5,669.5 1109.0,675.6 1109.5,654.8 1110.0,665.8 1110.5,664.0 1111.0,669.5 1111.5,660.8 1112.0,665.6 1112.5,660.2 1113.0,670.6 1113.5,666.9 1114.0,665.3 1114.5,668.4 1115.0,664.5 1115.5,656.4 1116.0,669.2 1116.5,667.1 1117.0,664.1 1117.5,670.5 1118.0,671.4 1118.5,656.8 1119.0,657.7 1119.5,670.6 1120.0,668.1 1120.5,652.5 1121.0,646.5 1121.5,645.5 1122.0,640.9 1122.5,627.2 1123.0,629.9 1123.5,613.1 1124.0,605.8 1124.5,614.5 1125.0,603.0 1125.5,607.9 1126.0,618.3 1126.5,627.1 1127.0,627.7 1127.5,637.8 1128.0,639.0 1128.5,660.6 1129.0,658.0 1129.5,650.5 1130.0,659.8 1130.5,665.8 1131.0,665.7 1131.5,674.8 1132.0,672.7 1132.5,661.8 1133.0,664.9 1133.5,658.1 1134.0,667.6 1134.5,667.3 1135.0,682.8 1135.5,667.4 1136.0,654.5 1136.5,663.1 1137.0,667.9 1137.5,659.9 1138.0,662.3 1138.5,665.3 1139.0,669.6 1139.5,666.7 1140.0,662.4 1140.5,672.4 1141.0,664.6 1141.5,664.9 1142.0,659.7 1142.5,663.2 1143.0,671.8 1143.5,658.3 1144.0,667.5 1144.5,672.2 1145.0,665.7 1145.5,669.3 1146.0,661.2 1146.5,675.6 1147.0,674.4 1147.5,669.2 1148.0,657.3 1148.5,661.5 1149.0,673.4 1149.5,677.7 1150.0,669.2 1150.5,674.8 1151.0,663.7 1151.5,666.0 1152.0,667.0 1152.5,669.4 1153.0,657.6 1153.5,672.1 1154.0,674.1 1154.5,659.2 1155.0,657.6 1155.5,667.4 1156.0,661.0 1156.5,650.2 1157.0,668.5 1157.5,663.8 1158.0,659.0 1158.5,673.2 1159.0,659.5 1159.5,651.5 1160.0,653.1 1160.5,641.2 1161.0,636.6 1161.5,635.8 1162.0,619.9 1162.5,609.3 1163.0,611.7 1163.5,595.1 1164.0,586.5 1164.5,574.0 1165.0,584.2 1165.5,599.3 1166.0,600.3 1166.5,624.7 1167.0,617.4 1167.5,631.8 1168.0,632.8 1168.5,645.7 1169.0,655.8 1169.5,665.0 1170.0,654.8 1170.5,660.7 1171.0,660.0 1171.5,658.8 1172.0,656.9 1172.5,665.0 1173.0,654.9 1173.5,666.3 1174.0,666.1 1174.5,662.5 1175.0,660.7 1175.5,658.7 1176.0,678.1 1176.5,659.4 1177.0,676.7 1177.5,671.2 1178.0,665.7 1178.5,661.1 1179.0,674.2 1179.5,678.3 1180.0,662.8 1180.5,666.6 1181.0,674.6 1181.5,670.5 1182.0,680.3 1182.5,665.3 1183.0,671.9 1183.5,661.4 1184.0,681.1 1184.5,664.6 1185.0,656.0 1185.5,668.2 1186.0,668.2 1186.5,680.2 1187.0,667.1 1187.5,669.0 1188.0,672.6 1188.5,678.4 1189.0,668.8 1189.5,675.3 1190.0,672.2 1190.5,667.5 1191.0,669.7 1191.5,669.5 1192.0,664.0 1192.5,676.4 1193.0,661.3 1193.5,676.2 1194.0,674.9 1194.5,668.9 1195.0,665.0 1195.5,668.1 1196.0,672.2 1196.5,673.8 1197.0,671.2 1197.5,675.3 1198.0,666.3 1198.5,670.9 1199.0,660.4 1199.5,674.0 1200.0,670.5 1200.5,667.2 1201.0,676.3 1201.5,673.6 1202.0,653.3 1202.5,669.8 1203.0,661.2 1203.5,675.8 1204.0,684.1 1204.5,666.6 1205.0,670.1 1205.5,668.2 1206.0,671.7 1206.5,673.4 1207.0,677.1 1207.5,664.0 1208.0,678.8 1208.5,664.3 1209.0,671.3 1209.5,676.4 1210.0,673.8 1210.5,664.3 1211.0,665.7 1211.5,667.1 1212.0,669.4 1212.5,676.4 1213.0,662.3 1213.5,672.4 1214.0,673.3 1214.5,673.0 1215.0,672.5 1215.5,678.5 1216.0,672.6 1216.5,674.7 1217.0,673.0 1217.5,680.1 1218.0,658.8 1218.5,677.2 1219.0,668.3 1219.5,668.2 1220.0,664.2 1220.5,659.0 1221.0,667.6 1221.5,665.8 1222.0,672.7 1222.5,661.3 1223.0,678.1 1223.5,671.4 1224.0,668.4 1224.5,665.7 1225.0,665.3 1225.5,663.3 1226.0,666.7 1226.5,669.9 1227.0,668.8 1227.5,661.7 1228.0,668.3 1228.5,664.7 1229.0,670.8 1229.5,680.6 1230.0,673.4 1230.5,668.1 1231.0,660.5 1231.5,661.7 1232.0,660.2 1232.5,674.0 1233.0,665.5 1233.5,670.2 1234.0,666.3 1234.5,670.4 1235.0,677.9 1235.5,666.0 1236.0,667.9 1236.5,665.3 1237.0,674.9 1237.5,664.0 1238.0,663.4 1238.5,661.9 1239.0,661.8 1239.5,672.6 1240.0,684.6 1240.5,664.2 1241.0,675.3 1241.5,671.3 1242.0,663.6 1242.5,668.3 1243.0,668.6 1243.5,666.0 1244.0,680.9 1244.5,659.0 1245.0,672.1 1245.5,671.8 1246.0,666.6 1246.5,670.8 1247.0,674.9 1247.5,670.8 1248.0,672.3 1248.5,673.9 1249.0,658.3 1249.5,678.3 1250.0,682.9 1250.5,675.5 1251.0,675.7 1251.5,661.9 1252.0,669.2 1252.5,665.3 1253.0,666.6 1253.5,675.4 1254.0,665.3 1254.5,669.2 1255.0,659.0 1255.5,669.0 1256.0,670.4 1256.5,665.9 1257.0,665.8 1257.5,680.6 1258.0,663.0 1258.5,663.9 1259.0,665.3 1259.5,676.7 1260.0,681.8 1260.5,671.8 1261.0,665.8 1261.5,667.4 1262.0,675.9 1262.5,664.7 1263.0,678.1 1263.5,677.9 1264.0,670.2 1264.5,673.5 1265.0,674.1 1265.5,678.6 1266.0,663.9 1266.5,676.5 1267.0,667.7 1267.5,665.4 1268.0,670.4 1268.5,668.6 1269.0,664.2 1269.5,660.7 1270.0,664.4 1270.5,678.0 1271.0,680.8 1271.5,673.4 1272.0,676.4 1272.5,666.8 1273.0,669.2 1273.5,671.2 1274.0,663.5 1274.5,664.0 1275.0,670.1 1275.5,667.7 1276.0,663.5 1276.5,671.7 1277.0,667.9 1277.5,675.2 1278.0,669.3 1278.5,667.6 1279.0,670.0 1279.5,668.2 1280.0,665.3 1280.5,666.8 1281.0,673.2 1281.5,672.5 1282.0,676.0 1282.5,659.0 1283.0,666.2 1283.5,665.8 1284.0,668.9 1284.5,665.0 1285.0,664.2 1285.5,671.0 1286.0,666.7 1286.5,657.9 1287.0,670.6 1287.5,666.7 1288.0,655.1 1288.5,660.1 1289.0,647.3 1289.5,654.5 1290.0,642.9 1290.5,637.0 1291.0,637.0 1291.5,637.0 1292.0,645.4 1292.5,648.8 1293.0,651.8 1293.5,651.9 1294.0,637.1 1294.5,661.4 1295.0,652.0 1295.5,665.8 1296.0,671.9 1296.5,667.9 1297.0,664.7 1297.5,666.3 1298.0,666.9 1298.5,664.8 1299.0,664.8 1299.5,663.0 1300.0,675.1 1300.5,668.4 1301.0,673.9 1301.5,667.2 1302.0,669.1 1302.5,667.7 1303.0,671.3 1303.5,673.4 1304.0,670.1 1304.5,665.0 1305.0,664.4 1305.5,678.1 1306.0,667.2 1306.5,667.1 1307.0,676.9 1307.5,674.7 1308.0,671.6 1308.5,666.3 1309.0,681.7 1309.5,670.6 1310.0,671.4 1310.5,667.3 1311.0,660.2 1311.5,660.5 1312.0,670.1 1312.5,669.9 1313.0,666.1 1313.5,660.7 1314.0,658.9 1314.5,664.9 1315.0,658.2 1315.5,671.0 1316.0,672.0 1316.5,680.9 1317.0,669.2 1317.5,659.9 1318.0,657.0 1318.5,640.6 1319.0,654.5 1319.5,653.7 1320.0,656.0 1320.5,648.2 1321.0,640.9 1321.5,629.8 1322.0,622.5 1322.5,616.8 1323.0,590.5 1323.5,586.9 1324.0,583.5 1324.5,600.5 1325.0,605.8 1325.5,612.3 1326.0,610.9 1326.5,629.5 1327.0,635.9 1327.5,645.1 1328.0,649.2 1328.5,657.7 1329.0,655.6 1329.5,665.1 1330.0,663.3 1330.5,661.5 1331.0,663.4 1331.5,662.3 1332.0,669.9 1332.5,664.3 1333.0,667.9 1333.5,664.4 1334.0,658.5 1334.5,672.1 1335.0,661.4 1335.5,671.2 1336.0,669.9 1336.5,658.5 1337.0,662.6 1337.5,665.1 1338.0,663.4 1338.5,661.5 1339.0,672.2 1339.5,666.8 1340.0,670.3 1340.5,665.8 1341.0,669.9 1341.5,664.1 1342.0,668.1 1342.5,671.4 1343.0,668.4 1343.5,665.6 1344.0,662.0 1344.5,668.9 1345.0,669.8 1345.5,666.4 1346.0,663.4 1346.5,670.6 1347.0,681.2 1347.5,665.6 1348.0,668.9 1348.5,668.9 1349.0,652.2 1349.5,666.8 1350.0,661.8 1350.5,672.9 1351.0,663.2 1351.5,659.4 1352.0,661.5 1352.5,662.2 1353.0,656.1 1353.5,656.2 1354.0,645.0 1354.5,646.5 1355.0,646.1 1355.5,645.8 1356.0,629.6 1356.5,617.7 1357.0,614.8 1357.5,607.4 1358.0,596.0 1358.5,607.6 1359.0,606.2 1359.5,617.0 1360.0,625.6 1360.5,634.7 1361.0,641.3 1361.5,641.5 1362.0,638.4 1362.5,649.8 1363.0,644.1 1363.5,657.0 1364.0,656.9 1364.5,646.9 1365.0,659.1 1365.5,658.4 1366.0,651.8 1366.5,658.2 1367.0,656.5 1367.5,636.0 1368.0,646.1 1368.5,640.8 1369.0,636.0 1369.5,644.1 1370.0,636.6 1370.5,640.3 1371.0,642.4 1371.5,646.3 1372.0,653.2 1372.5,648.4 1373.0,653.2 1373.5,664.3 1374.0,662.4 1374.5,666.2 1375.0,654.6 1375.5,661.6 1376.0,663.4 1376.5,667.1 1377.0,664.1 1377.5,672.8 1378.0,667.6 1378.5,668.2 1379.0,668.4 1379.5,672.4 1380.0,666.1 1380.5,674.9 1381.0,671.4 1381.5,669.8 1382.0,669.3 1382.5,672.0 1383.0,674.8 1383.5,674.5 1384.0,671.4 1384.5,674.2 1385.0,670.1 1385.5,676.4 1386.0,669.5 1386.5,658.4 1387.0,677.0 1387.5,670.3 1388.0,663.4 1388.5,668.7 1389.0,665.0 1389.5,681.3 1390.0,672.6 1390.5,661.4 1391.0,672.9 1391.5,667.8 1392.0,680.4 1392.5,664.3 1393.0,657.8 1393.5,670.4 1394.0,668.2 1394.5,667.8 1395.0,658.5 1395.5,672.4 1396.0,679.2 1396.5,659.8 1397.0,676.5 1397.5,667.1 1398.0,682.9 1398.5,672.6 1399.0,669.2 1399.5,676.2 1400.0,673.1 1400.5,667.1 1401.0,674.1 1401.5,667.5 1402.0,660.6 1402.5,681.3 1403.0,668.4 1403.5,667.0 1404.0,672.2 1404.5,661.9 1405.0,663.0 1405.5,667.7 1406.0,667.5 1406.5,670.8 1407.0,676.4 1407.5,667.8 1408.0,673.0 1408.5,673.6 1409.0,664.5 1409.5,671.6 1410.0,665.3 1410.5,676.2 1411.0,672.9 1411.5,670.5 1412.0,663.2 1412.5,671.1 1413.0,666.3 1413.5,674.3 1414.0,669.8 1414.5,666.1 1415.0,675.5 1415.5,674.4 1416.0,667.3 1416.5,676.7 1417.0,668.9 1417.5,668.8 1418.0,671.2 1418.5,666.4 1419.0,668.1 1419.5,669.6 1420.0,678.8 1420.5,678.6 1421.0,669.1 1421.5,679.2 1422.0,670.3 1422.5,672.6 1423.0,675.3 1423.5,672.1 1424.0,683.5 1424.5,671.9 1425.0,664.1 1425.5,677.6 1426.0,668.3 1426.5,668.9 1427.0,654.5 1427.5,676.0 1428.0,675.0 1428.5,674.9 1429.0,675.8 1429.5,679.7 1430.0,670.3 1430.5,675.6 1431.0,666.6 1431.5,668.7 1432.0,676.3 1432.5,672.7 1433.0,663.4 1433.5,672.6 1434.0,669.6 1434.5,666.2 1435.0,673.0 1435.5,668.4 1436.0,662.2 1436.5,664.7 1437.0,680.1 1437.5,662.5 1438.0,671.8 1438.5,673.9 1439.0,674.1 1439.5,664.1 1440.0,668.9 1440.5,671.4 1441.0,674.9 1441.5,667.2 1442.0,664.4 1442.5,676.0 1443.0,676.6 1443.5,672.6 1444.0,667.4 1444.5,672.8 1445.0,671.3 1445.5,675.2 1446.0,664.0 1446.5,671.3 1447.0,669.8 1447.5,664.7 1448.0,671.8 1448.5,670.9 1449.0,668.5 1449.5,672.8 1450.0,663.1 1450.5,670.4 1451.0,673.0 1451.5,672.2 1452.0,676.4 1452.5,664.2 1453.0,662.6 1453.5,672.0 1454.0,673.1 1454.5,682.0 1455.0,674.0 1455.5,666.0 1456.0,675.0 1456.5,666.1 1457.0,662.7 1457.5,684.6 1458.0,672.4 1458.5,674.5 1459.0,673.6 1459.5,680.3 1460.0,672.1 1460.5,677.1 1461.0,665.1 1461.5,663.1 1462.0,678.1 1462.5,678.3 1463.0,673.1 1463.5,671.5 1464.0,671.0 1464.5,666.2 1465.0,677.8 1465.5,672.5 1466.0,670.0 1466.5,665.1 1467.0,661.2 1467.5,646.0 1468.0,659.5 1468.5,656.7 1469.0,670.0 1469.5,680.7 1470.0,666.8 1470.5,669.3 1471.0,674.9 1471.5,675.4 1472.0,673.7 1472.5,661.8 1473.0,673.2 1473.5,664.3 1474.0,666.2 1474.5,673.6 1475.0,669.1 1475.5,675.0 1476.0,687.5 1476.5,674.9 1477.0,674.6 1477.5,666.0 1478.0,667.3 1478.5,665.1 1479.0,667.9 1479.5,664.9 1480.0,667.2 1480.5,669.7 1481.0,665.4 1481.5,663.2 1482.0,663.5 1482.5,673.2 1483.0,671.1 1483.5,676.3 1484.0,676.4 1484.5,669.0 1485.0,674.4 1485.5,663.1 1486.0,683.0 1486.5,677.2 1487.0,669.7 1487.5,664.6 1488.0,672.8 1488.5,660.9 1489.0,666.7 1489.5,674.8 1490.0,671.2 1490.5,668.2 1491.0,675.9 1491.5,665.3 1492.0,672.3 1492.5,668.2 1493.0,666.3 1493.5,673.3 1494.0,665.6 1494.5,680.9 1495.0,667.7 1495.5,681.4 1496.0,665.0 1496.5,674.1 1497.0,664.5 1497.5,663.7 1498.0,671.7 1498.5,674.4 1499.0,664.1 1499.5,677.1 1500.0,666.6 1500.5,671.5 1501.0,672.9 1501.5,674.0 1502.0,661.3 1502.5,679.4 1503.0,673.8 1503.5,668.6 1504.0,665.4 1504.5,661.9 1505.0,663.6 1505.5,673.7 1506.0,669.0 1506.5,664.8 1507.0,668.1 1507.5,679.1 1508.0,669.1 1508.5,667.7 1509.0,678.0 1509.5,673.3 1510.0,671.1 1510.5,667.6 1511.0,662.6 1511.5,664.6 1512.0,668.3 1512.5,669.7 1513.0,672.7 1513.5,673.8 1514.0,672.0 1514.5,672.0 1515.0,665.5 1515.5,659.4 1516.0,668.1 1516.5,665.8 1517.0,667.4 1517.5,669.4 1518.0,664.2 1518.5,664.9 1519.0,670.3 1519.5,671.4 1520.0,667.3 1520.5,673.4 1521.0,669.6 1521.5,665.4 1522.0,671.0 1522.5,680.7 1523.0,667.2 1523.5,676.9 1524.0,678.1 1524.5,678.7 1525.0,666.4 1525.5,681.4 1526.0,671.3 1526.5,669.4 1527.0,669.5 1527.5,673.9 1528.0,671.0 1528.5,669.7 1529.0,677.5 1529.5,666.8 1530.0,665.1 1530.5,674.8 1531.0,674.3 1531.5,676.4 1532.0,664.9 1532.5,676.2 1533.0,673.1 1533.5,679.8 1534.0,663.8 1534.5,671.6 1535.0,668.9 1535.5,661.9 1536.0,666.5 1536.5,676.2 1537.0,667.7 1537.5,666.3 1538.0,674.7 1538.5,675.3 1539.0,675.2 1539.5,665.7 1540.0,669.5 1540.5,675.1 1541.0,666.1 1541.5,665.4 1542.0,673.6 1542.5,677.3 1543.0,662.7 1543.5,654.8 1544.0,660.6 1544.5,662.5 1545.0,666.6 1545.5,670.0 1546.0,665.0 1546.5,660.9 1547.0,664.0 1547.5,656.1 1548.0,658.7 1548.5,652.7 1549.0,667.7 1549.5,653.8 1550.0,640.7 1550.5,635.8 1551.0,635.6 1551.5,631.0 1552.0,631.0 1552.5,631.5 1553.0,643.1 1553.5,639.1 1554.0,640.9 1554.5,641.8 1555.0,646.4 1555.5,655.8 1556.0,657.8 1556.5,667.4 1557.0,659.8 1557.5,670.3 1558.0,667.1 1558.5,666.6 1559.0,656.6 1559.5,661.0 1560.0,672.1 1560.5,675.9 1561.0,669.9 1561.5,673.0 1562.0,667.0 1562.5,667.4 1563.0,665.9 1563.5,674.7 1564.0,671.5 1564.5,668.5 1565.0,668.1 1565.5,672.8 1566.0,671.6 1566.5,665.6 1567.0,679.1 1567.5,671.4 1568.0,670.1 1568.5,677.9 1569.0,675.5 1569.5,669.7 1570.0,673.0 1570.5,664.5 1571.0,666.8 1571.5,658.3 1572.0,676.6 1572.5,660.2 1573.0,673.7 1573.5,665.8 1574.0,665.0 1574.5,669.1 1575.0,671.5 1575.5,673.2 1576.0,679.3 1576.5,671.8 1577.0,674.5 1577.5,666.6 1578.0,673.5 1578.5,670.4 1579.0,667.1 1579.5,668.9 1580.0,668.9 1580.5,670.1 1581.0,671.1 1581.5,666.0 1582.0,664.6 1582.5,672.1 1583.0,658.8 1583.5,664.1 1584.0,674.9 1584.5,651.6 1585.0,661.2 1585.5,667.2 1586.0,652.9 1586.5,673.5 1587.0,642.7 1587.5,661.3 1588.0,658.1 1588.5,650.2 1589.0,639.2 1589.5,637.8 1590.0,626.6 1590.5,633.5 1591.0,624.0 1591.5,627.3 1592.0,637.4 1592.5,629.5 1593.0,638.4 1593.5,646.1 1594.0,642.2 1594.5,659.8 1595.0,658.7 1595.5,651.5 1596.0,661.6 1596.5,659.5 1597.0,661.5 1597.5,666.5 1598.0,663.1 1598.5,672.6 1599.0,664.3 1599.5,673.5 1600.0,668.5 1600.5,673.4 1601.0,666.3 1601.5,666.7 1602.0,663.5 1602.5,672.7 1603.0,674.7 1603.5,681.0 1604.0,676.8 1604.5,671.4 1605.0,669.1 1605.5,672.3 1606.0,670.2 1606.5,678.1 1607.0,675.4 1607.5,666.2 1608.0,667.0 1608.5,677.8 1609.0,672.3 1609.5,669.5 1610.0,677.0 1610.5,668.8 1611.0,669.4 1611.5,668.5 1612.0,660.7 1612.5,675.4 1613.0,664.6 1613.5,668.0 1614.0,667.1 1614.5,674.8 1615.0,670.7 1615.5,671.1 1616.0,662.3 1616.5,670.6 1617.0,663.4 1617.5,672.7 1618.0,673.0 1618.5,671.1 1619.0,681.8 1619.5,673.9 1620.0,674.3 1620.5,671.9 1621.0,670.2 1621.5,676.2 1622.0,677.0 1622.5,664.5 1623.0,676.7 1623.5,673.9 1624.0,676.3 1624.5,673.7 1625.0,664.8 1625.5,665.2 1626.0,680.8 1626.5,672.6 1627.0,664.0 1627.5,673.1 1628.0,669.5 1628.5,661.8 1629.0,659.5 1629.5,663.0 1630.0,672.8 1630.5,671.1 1631.0,670.1 1631.5,672.9 1632.0,674.5 1632.5,660.5 1633.0,669.8 1633.5,667.1 1634.0,665.0 1634.5,668.6 1635.0,670.8 1635.5,670.0 1636.0,663.9 1636.5,668.9 1637.0,681.9 1637.5,666.0 1638.0,662.7 1638.5,672.9 1639.0,674.6 1639.5,673.9 1640.0,665.7 1640.5,676.6 1641.0,667.4 1641.5,665.6 1642.0,668.3 1642.5,670.9 1643.0,675.2 1643.5,674.7 1644.0,671.4 1644.5,676.3 1645.0,671.9 1645.5,676.2 1646.0,664.2 1646.5,663.4 1647.0,675.5 1647.5,664.3 1648.0,670.0 1648.5,671.0 1649.0,669.0 1649.5,669.2 1650.0,678.8 1650.5,658.5 1651.0,676.1 1651.5,683.4 1652.0,671.7 1652.5,671.5 1653.0,675.3 1653.5,681.0 1654.0,665.4 1654.5,672.0 1655.0,670.6 1655.5,674.5 1656.0,672.4 1656.5,675.0 1657.0,669.4 1657.5,671.9 1658.0,668.1 1658.5,668.2 1659.0,670.9 1659.5,670.9 1660.0,665.6 1660.5,679.7 1661.0,670.9 1661.5,664.5 1662.0,677.3 1662.5,667.8 1663.0,674.3 1663.5,671.5 1664.0,672.9 1664.5,672.5 1665.0,668.7 1665.5,671.9 1666.0,682.1 1666.5,660.1 1667.0,672.0 1667.5,673.9 1668.0,666.2 1668.5,664.6 1669.0,682.8 1669.5,669.8 1670.0,682.4 1670.5,674.4 1671.0,672.1 1671.5,674.1 1672.0,675.0 1672.5,677.8 1673.0,673.9 1673.5,672.4 1674.0,672.6 1674.5,678.7 1675.0,675.9 1675.5,666.5 1676.0,668.4 1676.5,673.4 1677.0,668.5 1677.5,669.8 1678.0,666.8 1678.5,670.4 1679.0,673.9 1679.5,676.8 1680.0,671.8 1680.5,682.4 1681.0,671.3 1681.5,688.2 1682.0,676.9 1682.5,674.3 1683.0,669.2 1683.5,657.2 1684.0,670.9 1684.5,672.7 1685.0,681.6 1685.5,664.7 1686.0,681.6 1686.5,670.5 1687.0,675.5 1687.5,658.7 1688.0,672.5 1688.5,670.0 1689.0,675.3 1689.5,672.2 1690.0,665.9 1690.5,676.6 1691.0,675.3 1691.5,674.8 1692.0,677.0 1692.5,677.4 1693.0,671.7 1693.5,664.8 1694.0,664.7 1694.5,678.7 1695.0,675.4 1695.5,672.3 1696.0,669.6 1696.5,672.0 1697.0,671.9 1697.5,670.1 1698.0,668.2 1698.5,682.9 1699.0,673.0 1699.5,668.7 1700.0,665.1 1700.5,668.1 1701.0,675.5 1701.5,675.7 1702.0,670.7 1702.5,672.1 1703.0,670.3 1703.5,666.2 1704.0,678.5 1704.5,673.8 1705.0,684.5 1705.5,668.0 1706.0,671.2 1706.5,676.4 1707.0,670.6 1707.5,664.8 1708.0,667.0 1708.5,672.4 1709.0,673.6 1709.5,671.4 1710.0,677.0 1710.5,677.0 1711.0,673.5 1711.5,672.0 1712.0,670.6 1712.5,674.7 1713.0,676.6 1713.5,672.2 1714.0,674.2 1714.5,670.2 1715.0,664.7 1715.5,666.8 1716.0,675.8 1716.5,674.2 1717.0,680.0 1717.5,672.2 1718.0,676.3 1718.5,678.7 1719.0,677.0 1719.5,668.8 1720.0,671.0 1720.5,672.6 1721.0,666.9 1721.5,674.4 1722.0,677.2 1722.5,669.5 1723.0,682.0 1723.5,670.5 1724.0,670.9 1724.5,670.7 1725.0,668.3 1725.5,674.1 1726.0,672.1 1726.5,680.4 1727.0,675.1 1727.5,674.7 1728.0,670.8 1728.5,664.7 1729.0,671.5" fill="none" stroke="#f00" stroke-width="2.2" stroke-linejoin="round"/>
<polyline points="139.0,978.5 140.0,1035.0 141.0,1023.7 142.0,1080.2 143.0,1057.6 144.0,1068.9 145.0,1057.6 146.0,1068.9 147.0,1080.2 148.0,1102.8 149.0,1057.6 150.0,1102.8 151.0,1159.3 152.0,1080.2 153.0,1080.2 154.0,1068.9 155.0,1046.3 156.0,1125.4 157.0,1091.5 158.0,1102.8 159.0,1148.0 160.0,1170.6 161.0,1068.9 162.0,1125.4 163.0,1114.1 164.0,1114.1 165.0,1114.1 166.0,1102.8 167.0,1148.0 168.0,1114.1 169.0,1114.1 170.0,1136.7 171.0,1125.4 172.0,1114.1 173.0,1114.1 174.0,1159.3 175.0,1125.4 176.0,1102.8 177.0,1080.2 178.0,1102.8 179.0,1080.2 180.0,1114.1 181.0,1125.4 182.0,1057.6 183.0,1114.1 184.0,1136.7 185.0,1125.4 186.0,1091.5 187.0,1148.0 188.0,1102.8 189.0,1080.2 190.0,1091.5 191.0,1114.1 192.0,1148.0 193.0,1148.0 194.0,1125.4 195.0,1091.5 196.0,1102.8 197.0,1102.8 198.0,1125.4 199.0,1080.2 200.0,1125.4 201.0,1148.0 202.0,1125.4 203.0,1136.7 204.0,1102.8 205.0,1091.5 206.0,1114.1 207.0,1159.3 208.0,1159.3 209.0,1125.4 210.0,1170.6 211.0,1125.4 212.0,1170.6 213.0,1148.0 214.0,1125.4 215.0,1159.3 216.0,1114.1 217.0,1114.1 218.0,1102.8 219.0,1148.0 220.0,1136.7 221.0,1136.7 222.0,1136.7 223.0,1181.9 224.0,1136.7 225.0,1125.4 226.0,1170.6 227.0,1181.9 228.0,1148.0 229.0,1102.8 230.0,1136.7 231.0,1159.3 232.0,1148.0 233.0,1181.9 234.0,1114.1 235.0,1170.6 236.0,1136.7 237.0,1181.9 238.0,1148.0 239.0,1170.6 240.0,1136.7 241.0,1125.4 242.0,1125.4 243.0,1136.7 244.0,1136.7 245.0,1181.9 246.0,1181.9 247.0,1159.3 248.0,1136.7 249.0,1159.3 250.0,1148.0 251.0,1193.2 252.0,1170.6 253.0,1170.6 254.0,1148.0 255.0,1114.1 256.0,1148.0 257.0,1136.7 258.0,1170.6 259.0,1159.3 260.0,1148.0 261.0,1148.0 262.0,1193.2 263.0,1136.7 264.0,1148.0 265.0,1159.3 266.0,1148.0 267.0,1159.3 268.0,1170.6 269.0,1204.5 270.0,1125.4 271.0,1159.3 272.0,1170.6 273.0,1159.3 274.0,1159.3 275.0,1159.3 276.0,1181.9 277.0,1159.3 278.0,1159.3 279.0,1170.6 280.0,1170.6 281.0,1159.3 282.0,1193.2 283.0,1170.6 284.0,1170.6 285.0,1170.6 286.0,1148.0 287.0,1159.3 288.0,1148.0 289.0,1170.6 290.0,1159.3 291.0,1148.0 292.0,1181.9 293.0,1181.9 294.0,1136.7 295.0,1204.5 296.0,1170.6 297.0,1170.6 298.0,1193.2 299.0,1181.9 300.0,1170.6 301.0,1215.8 302.0,1159.3 303.0,1181.9 304.0,1193.2 305.0,1159.3 306.0,1181.9 307.0,1181.9 308.0,1227.1 309.0,1159.3 310.0,1181.9 311.0,1193.2 312.0,1181.9 313.0,1148.0 314.0,1181.9 315.0,1170.6 316.0,1170.6 317.0,1181.9 318.0,1181.9 319.0,1170.6 320.0,1125.4 321.0,1136.7 322.0,1159.3 323.0,1170.6 324.0,1159.3 325.0,1181.9 326.0,1159.3 327.0,1215.8 328.0,1227.1 329.0,1181.9 330.0,1204.5 331.0,1193.2 332.0,1227.1 333.0,1215.8 334.0,1204.5 335.0,1204.5 336.0,1204.5 337.0,1193.2 338.0,1227.1 339.0,1193.2 340.0,1215.8 341.0,1215.8 342.0,1227.1 343.0,1215.8 344.0,1227.1 345.0,1204.5 346.0,1227.1 347.0,1215.8 348.0,1227.1 349.0,1215.8 350.0,1238.4 351.0,1181.9 352.0,1227.1 353.0,1193.2 354.0,1238.4 355.0,1193.2 356.0,1204.5 357.0,1193.2 358.0,1249.7 359.0,1204.5 360.0,1227.1 361.0,1215.8 362.0,1193.2 363.0,1227.1 364.0,1238.4 365.0,1227.1 366.0,1238.4 367.0,1227.1 368.0,1227.1 369.0,1227.1 370.0,1238.4 371.0,1261.0 372.0,1238.4 373.0,1227.1 374.0,1215.8 375.0,1215.8 376.0,1249.7 377.0,1215.8 378.0,1215.8 379.0,1227.1 380.0,1227.1 381.0,1261.0 382.0,1193.2 383.0,1238.4 384.0,1238.4 385.0,1215.8 386.0,1215.8 387.0,1238.4 388.0,1261.0 389.0,1215.8 390.0,1204.5 391.0,1249.7 392.0,1261.0 393.0,1227.1 394.0,1193.2 395.0,1261.0 396.0,1227.1 397.0,1249.7 398.0,1227.1 399.0,1227.1 400.0,1227.1 401.0,1261.0 402.0,1261.0 403.0,1204.5 404.0,1215.8 405.0,1261.0 406.0,1227.1 407.0,1215.8 408.0,1238.4 409.0,1227.1 410.0,1227.1 411.0,1227.1 412.0,1227.1 413.0,1227.1 414.0,1238.4 415.0,1227.1 416.0,1227.1 417.0,1238.4 418.0,1261.0 419.0,1238.4 420.0,1238.4 421.0,1249.7 422.0,1238.4 423.0,1249.7 424.0,1238.4 425.0,1261.0 426.0,1261.0 427.0,1238.4 428.0,1227.1 429.0,1249.7 430.0,1249.7 431.0,1238.4 432.0,1215.8 433.0,1204.5 434.0,1238.4 435.0,1249.7 436.0,1249.7 437.0,1215.8 438.0,1249.7 439.0,1227.1 440.0,1238.4 441.0,1238.4 442.0,1227.1 443.0,1227.1 444.0,1204.5 445.0,1227.1 446.0,1204.5 447.0,1238.4 448.0,1238.4 449.0,1249.7 450.0,1238.4 451.0,1227.1 452.0,1238.4 453.0,1227.1 454.0,1249.7 455.0,1238.4 456.0,1215.8 457.0,1238.4 458.0,1238.4 459.0,1227.1 460.0,1249.7 461.0,1261.0 462.0,1227.1 463.0,1227.1 464.0,1204.5 465.0,1238.4 466.0,1227.1 467.0,1204.5 468.0,1238.4 469.0,1249.7 470.0,1227.1 471.0,1227.1 472.0,1227.1 473.0,1249.7 474.0,1215.8 475.0,1227.1 476.0,1272.3 477.0,1238.4 478.0,1249.7 479.0,1238.4 480.0,1215.8 481.0,1238.4 482.0,1238.4 483.0,1215.8 484.0,1238.4 485.0,1261.0 486.0,1249.7 487.0,1215.8 488.0,1227.1 489.0,1215.8 490.0,1249.7 491.0,1249.7 492.0,1249.7 493.0,1227.1 494.0,1215.8 495.0,1238.4 496.0,1238.4 497.0,1227.1 498.0,1238.4 499.0,1249.7 500.0,1238.4 501.0,1227.1 502.0,1204.5 503.0,1238.4 504.0,1238.4 505.0,1238.4 506.0,1227.1 507.0,1227.1 508.0,1249.7 509.0,1238.4 510.0,1238.4 511.0,1227.1 512.0,1227.1 513.0,1238.4 514.0,1227.1 515.0,1215.8 516.0,1238.4 517.0,1261.0 518.0,1238.4 519.0,1261.0 520.0,1238.4 521.0,1238.4 522.0,1215.8 523.0,1227.1 524.0,1261.0 525.0,1238.4 526.0,1249.7 527.0,1249.7 528.0,1238.4 529.0,1238.4 530.0,1238.4 531.0,1249.7 532.0,1249.7 533.0,1249.7 534.0,1238.4 535.0,1227.1 536.0,1227.1 537.0,1227.1 538.0,1249.7 539.0,1204.5 540.0,1227.1 541.0,1272.3 542.0,1227.1 543.0,1215.8 544.0,1238.4 545.0,1249.7 546.0,1227.1 547.0,1238.4 548.0,1238.4 549.0,1227.1 550.0,1283.6 551.0,1227.1 552.0,1215.8 553.0,1215.8 554.0,1227.1 555.0,1227.1 556.0,1227.1 557.0,1204.5 558.0,1170.6 559.0,1193.2 560.0,1159.3 561.0,1148.0 562.0,1102.8 563.0,1114.1 564.0,1091.5 565.0,1102.8 566.0,1080.2 567.0,1102.8 568.0,1114.1 569.0,1102.8 570.0,1125.4 571.0,1136.7 572.0,1193.2 573.0,1136.7 574.0,1193.2 575.0,1170.6 576.0,1204.5 577.0,1227.1 578.0,1215.8 579.0,1227.1 580.0,1215.8 581.0,1261.0 582.0,1249.7 583.0,1249.7 584.0,1215.8 585.0,1215.8 586.0,1249.7 587.0,1227.1 588.0,1227.1 589.0,1238.4 590.0,1215.8 591.0,1249.7 592.0,1238.4 593.0,1249.7 594.0,1227.1 595.0,1249.7 596.0,1227.1 597.0,1249.7 598.0,1261.0 599.0,1249.7 600.0,1249.7 601.0,1249.7 602.0,1193.2 603.0,1249.7 604.0,1238.4 605.0,1238.4 606.0,1238.4 607.0,1215.8 608.0,1227.1 609.0,1249.7 610.0,1261.0 611.0,1227.1 612.0,1227.1 613.0,1261.0 614.0,1227.1 615.0,1272.3 616.0,1238.4 617.0,1227.1 618.0,1249.7 619.0,1261.0 620.0,1215.8 621.0,1261.0 622.0,1238.4 623.0,1261.0 624.0,1227.1 625.0,1215.8 626.0,1249.7 627.0,1249.7 628.0,1272.3 629.0,1261.0 630.0,1249.7 631.0,1238.4 632.0,1227.1 633.0,1227.1 634.0,1227.1 635.0,1227.1 636.0,1193.2 637.0,1238.4 638.0,1238.4 639.0,1272.3 640.0,1249.7 641.0,1227.1 642.0,1238.4 643.0,1215.8 644.0,1227.1 645.0,1204.5 646.0,1249.7 647.0,1238.4 648.0,1204.5 649.0,1227.1 650.0,1238.4 651.0,1238.4 652.0,1227.1 653.0,1204.5 654.0,1204.5 655.0,1215.8 656.0,1227.1 657.0,1193.2 658.0,1181.9 659.0,1227.1 660.0,1170.6 661.0,1204.5 662.0,1170.6 663.0,1159.3 664.0,1159.3 665.0,1114.1 666.0,1091.5 667.0,1012.4 668.0,989.8 669.0,1001.1 670.0,989.8 671.0,933.3 672.0,922.0 673.0,809.0 674.0,763.8 675.0,696.0 676.0,729.9 677.0,752.5 678.0,752.5 679.0,865.5 680.0,842.9 681.0,944.6 682.0,922.0 683.0,1035.0 684.0,1001.1 685.0,1091.5 686.0,1057.6 687.0,1114.1 688.0,1181.9 689.0,1148.0 690.0,1181.9 691.0,1181.9 692.0,1159.3 693.0,1215.8 694.0,1215.8 695.0,1193.2 696.0,1215.8 697.0,1193.2 698.0,1193.2 699.0,1204.5 700.0,1181.9 701.0,1238.4 702.0,1159.3 703.0,1193.2 704.0,1193.2 705.0,1125.4 706.0,1125.4 707.0,1181.9 708.0,1159.3 709.0,1181.9 710.0,1204.5 711.0,1181.9 712.0,1170.6 713.0,1148.0 714.0,1215.8 715.0,1204.5 716.0,1227.1 717.0,1227.1 718.0,1204.5 719.0,1261.0 720.0,1249.7 721.0,1249.7 722.0,1215.8 723.0,1227.1 724.0,1227.1 725.0,1227.1 726.0,1215.8 727.0,1249.7 728.0,1238.4 729.0,1249.7 730.0,1227.1 731.0,1261.0 732.0,1238.4 733.0,1193.2 734.0,1227.1 735.0,1238.4 736.0,1261.0 737.0,1238.4 738.0,1238.4 739.0,1227.1 740.0,1249.7 741.0,1238.4 742.0,1238.4 743.0,1227.1 744.0,1249.7 745.0,1238.4 746.0,1215.8 747.0,1249.7 748.0,1227.1 749.0,1249.7 750.0,1249.7 751.0,1261.0 752.0,1261.0 753.0,1238.4 754.0,1238.4 755.0,1227.1 756.0,1272.3 757.0,1249.7 758.0,1261.0 759.0,1238.4 760.0,1215.8 761.0,1272.3 762.0,1249.7 763.0,1249.7 764.0,1249.7 765.0,1249.7 766.0,1249.7 767.0,1215.8 768.0,1261.0 769.0,1238.4 770.0,1238.4 771.0,1272.3 772.0,1261.0 773.0,1238.4 774.0,1215.8 775.0,1249.7 776.0,1249.7 777.0,1238.4 778.0,1227.1 779.0,1238.4 780.0,1227.1 781.0,1249.7 782.0,1261.0 783.0,1261.0 784.0,1238.4 785.0,1249.7 786.0,1249.7 787.0,1238.4 788.0,1238.4 789.0,1272.3 790.0,1249.7 791.0,1261.0 792.0,1238.4 793.0,1249.7 794.0,1215.8 795.0,1249.7 796.0,1261.0 797.0,1272.3 798.0,1261.0 799.0,1261.0 800.0,1249.7 801.0,1238.4 802.0,1238.4 803.0,1249.7 804.0,1238.4 805.0,1261.0 806.0,1227.1 807.0,1215.8 808.0,1227.1 809.0,1215.8 810.0,1227.1 811.0,1261.0 812.0,1238.4 813.0,1249.7 814.0,1261.0 815.0,1261.0 816.0,1238.4 817.0,1261.0 818.0,1249.7 819.0,1238.4 820.0,1249.7 821.0,1215.8 822.0,1227.1 823.0,1227.1 824.0,1238.4 825.0,1227.1 826.0,1215.8 827.0,1238.4 828.0,1238.4 829.0,1215.8 830.0,1215.8 831.0,1170.6 832.0,1159.3 833.0,1159.3 834.0,1136.7 835.0,1114.1 836.0,1159.3 837.0,1091.5 838.0,1091.5 839.0,1136.7 840.0,1170.6 841.0,1148.0 842.0,1181.9 843.0,1159.3 844.0,1170.6 845.0,1181.9 846.0,1204.5 847.0,1249.7 848.0,1204.5 849.0,1249.7 850.0,1215.8 851.0,1227.1 852.0,1249.7 853.0,1249.7 854.0,1238.4 855.0,1215.8 856.0,1249.7 857.0,1227.1 858.0,1283.6 859.0,1238.4 860.0,1249.7 861.0,1227.1 862.0,1238.4 863.0,1227.1 864.0,1261.0 865.0,1238.4 866.0,1249.7 867.0,1238.4 868.0,1238.4 869.0,1261.0 870.0,1227.1 871.0,1215.8 872.0,1249.7 873.0,1227.1 874.0,1238.4 875.0,1261.0 876.0,1238.4 877.0,1261.0 878.0,1238.4 879.0,1272.3 880.0,1272.3 881.0,1238.4 882.0,1249.7 883.0,1238.4 884.0,1249.7 885.0,1261.0 886.0,1227.1 887.0,1261.0 888.0,1227.1 889.0,1238.4 890.0,1227.1 891.0,1283.6 892.0,1249.7 893.0,1249.7 894.0,1238.4 895.0,1261.0 896.0,1215.8 897.0,1249.7 898.0,1283.6 899.0,1249.7 900.0,1249.7 901.0,1261.0 902.0,1238.4 903.0,1249.7 904.0,1261.0 905.0,1249.7 906.0,1261.0 907.0,1249.7 908.0,1249.7 909.0,1249.7 910.0,1272.3 911.0,1261.0 912.0,1249.7 913.0,1215.8 914.0,1261.0 915.0,1261.0 916.0,1238.4 917.0,1215.8 918.0,1238.4 919.0,1261.0 920.0,1238.4 921.0,1238.4 922.0,1249.7 923.0,1272.3 924.0,1249.7 925.0,1249.7 926.0,1238.4 927.0,1272.3 928.0,1261.0 929.0,1249.7 930.0,1227.1 931.0,1238.4 932.0,1261.0 933.0,1238.4 934.0,1261.0 935.0,1261.0 936.0,1261.0 937.0,1261.0 938.0,1261.0 939.0,1238.4 940.0,1249.7 941.0,1283.6 942.0,1238.4 943.0,1249.7 944.0,1272.3 945.0,1249.7 946.0,1238.4 947.0,1227.1 948.0,1261.0 949.0,1261.0 950.0,1272.3 951.0,1249.7 952.0,1272.3 953.0,1238.4 954.0,1249.7 955.0,1238.4 956.0,1249.7 957.0,1261.0 958.0,1272.3 959.0,1238.4 960.0,1272.3 961.0,1249.7 962.0,1238.4 963.0,1249.7 964.0,1227.1 965.0,1249.7 966.0,1261.0 967.0,1249.7 968.0,1261.0 969.0,1249.7 970.0,1249.7 971.0,1227.1 972.0,1249.7 973.0,1238.4 974.0,1249.7 975.0,1249.7 976.0,1249.7 977.0,1227.1 978.0,1227.1 979.0,1249.7 980.0,1261.0 981.0,1261.0 982.0,1261.0 983.0,1272.3 984.0,1261.0 985.0,1249.7 986.0,1238.4 987.0,1238.4 988.0,1249.7 989.0,1249.7 990.0,1249.7 991.0,1249.7 992.0,1249.7 993.0,1261.0 994.0,1249.7 995.0,1261.0 996.0,1261.0 997.0,1238.4 998.0,1238.4 999.0,1261.0 1000.0,1261.0 1001.0,1249.7 1002.0,1249.7 1003.0,1283.6 1004.0,1238.4 1005.0,1249.7 1006.0,1249.7 1007.0,1238.4 1008.0,1249.7 1009.0,1272.3 1010.0,1261.0 1011.0,1261.0 1012.0,1261.0 1013.0,1249.7 1014.0,1261.0 1015.0,1249.7 1016.0,1238.4 1017.0,1249.7 1018.0,1261.0 1019.0,1249.7 1020.0,1261.0 1021.0,1215.8 1022.0,1261.0 1023.0,1283.6 1024.0,1261.0 1025.0,1238.4 1026.0,1238.4 1027.0,1249.7 1028.0,1227.1 1029.0,1249.7 1030.0,1238.4 1031.0,1261.0 1032.0,1261.0 1033.0,1204.5 1034.0,1238.4 1035.0,1227.1 1036.0,1215.8 1037.0,1215.8 1038.0,1227.1 1039.0,1238.4 1040.0,1204.5 1041.0,1238.4 1042.0,1249.7 1043.0,1227.1 1044.0,1227.1 1045.0,1215.8 1046.0,1193.2 1047.0,1215.8 1048.0,1215.8 1049.0,1215.8 1050.0,1249.7 1051.0,1215.8 1052.0,1215.8 1053.0,1238.4 1054.0,1181.9 1055.0,1181.9 1056.0,1204.5 1057.0,1204.5 1058.0,1227.1 1059.0,1215.8 1060.0,1249.7 1061.0,1249.7 1062.0,1238.4 1063.0,1227.1 1064.0,1238.4 1065.0,1249.7 1066.0,1215.8 1067.0,1238.4 1068.0,1249.7 1069.0,1238.4 1070.0,1261.0 1071.0,1261.0 1072.0,1227.1 1073.0,1249.7 1074.0,1227.1 1075.0,1249.7 1076.0,1227.1 1077.0,1261.0 1078.0,1249.7 1079.0,1261.0 1080.0,1238.4 1081.0,1227.1 1082.0,1272.3 1083.0,1238.4 1084.0,1261.0 1085.0,1249.7 1086.0,1261.0 1087.0,1272.3 1088.0,1249.7 1089.0,1261.0 1090.0,1227.1 1091.0,1261.0 1092.0,1238.4 1093.0,1238.4 1094.0,1249.7 1095.0,1249.7 1096.0,1272.3 1097.0,1215.8 1098.0,1238.4 1099.0,1227.1 1100.0,1261.0 1101.0,1238.4 1102.0,1249.7 1103.0,1227.1 1104.0,1249.7 1105.0,1249.7 1106.0,1227.1 1107.0,1227.1 1108.0,1204.5 1109.0,1227.1 1110.0,1227.1 1111.0,1193.2 1112.0,1215.8 1113.0,1148.0 1114.0,1148.0 1115.0,1136.7 1116.0,1148.0 1117.0,1136.7 1118.0,1125.4 1119.0,1114.1 1120.0,1114.1 1121.0,1068.9 1122.0,1035.0 1123.0,1023.7 1124.0,1102.8 1125.0,1023.7 1126.0,1057.6 1127.0,1102.8 1128.0,1091.5 1129.0,1068.9 1130.0,1102.8 1131.0,1136.7 1132.0,1159.3 1133.0,1136.7 1134.0,1181.9 1135.0,1181.9 1136.0,1204.5 1137.0,1227.1 1138.0,1204.5 1139.0,1193.2 1140.0,1227.1 1141.0,1249.7 1142.0,1238.4 1143.0,1238.4 1144.0,1272.3 1145.0,1215.8 1146.0,1249.7 1147.0,1227.1 1148.0,1238.4 1149.0,1238.4 1150.0,1261.0 1151.0,1227.1 1152.0,1238.4 1153.0,1227.1 1154.0,1249.7 1155.0,1238.4 1156.0,1249.7 1157.0,1227.1 1158.0,1238.4 1159.0,1261.0 1160.0,1249.7 1161.0,1261.0 1162.0,1249.7 1163.0,1238.4 1164.0,1227.1 1165.0,1261.0 1166.0,1249.7 1167.0,1261.0 1168.0,1215.8 1169.0,1227.1 1170.0,1215.8 1171.0,1238.4 1172.0,1261.0 1173.0,1261.0 1174.0,1249.7 1175.0,1249.7 1176.0,1261.0 1177.0,1249.7 1178.0,1249.7 1179.0,1249.7 1180.0,1215.8 1181.0,1249.7 1182.0,1272.3 1183.0,1249.7 1184.0,1249.7 1185.0,1238.4 1186.0,1238.4 1187.0,1261.0 1188.0,1249.7 1189.0,1238.4 1190.0,1204.5 1191.0,1238.4 1192.0,1227.1 1193.0,1227.1 1194.0,1261.0 1195.0,1261.0 1196.0,1227.1 1197.0,1261.0 1198.0,1249.7 1199.0,1238.4 1200.0,1261.0 1201.0,1227.1 1202.0,1227.1 1203.0,1227.1 1204.0,1227.1 1205.0,1261.0 1206.0,1227.1 1207.0,1227.1 1208.0,1227.1 1209.0,1249.7 1210.0,1238.4 1211.0,1249.7 1212.0,1227.1 1213.0,1227.1 1214.0,1227.1 1215.0,1238.4 1216.0,1227.1 1217.0,1238.4 1218.0,1261.0 1219.0,1227.1 1220.0,1227.1 1221.0,1249.7 1222.0,1204.5 1223.0,1204.5 1224.0,1193.2 1225.0,1204.5 1226.0,1204.5 1227.0,1181.9 1228.0,1170.6 1229.0,1181.9 1230.0,1159.3 1231.0,1102.8 1232.0,1114.1 1233.0,1102.8 1234.0,1102.8 1235.0,1057.6 1236.0,1035.0 1237.0,1023.7 1238.0,978.5 1239.0,1012.4 1240.0,978.5 1241.0,1023.7 1242.0,989.8 1243.0,1012.4 1244.0,1012.4 1245.0,1023.7 1246.0,1080.2 1247.0,1068.9 1248.0,1114.1 1249.0,1091.5 1250.0,1136.7 1251.0,1114.1 1252.0,1148.0 1253.0,1159.3 1254.0,1193.2 1255.0,1193.2 1256.0,1204.5 1257.0,1227.1 1258.0,1215.8 1259.0,1227.1 1260.0,1238.4 1261.0,1227.1 1262.0,1227.1 1263.0,1238.4 1264.0,1227.1 1265.0,1238.4 1266.0,1261.0 1267.0,1249.7 1268.0,1238.4 1269.0,1227.1 1270.0,1238.4 1271.0,1238.4 1272.0,1261.0 1273.0,1238.4 1274.0,1238.4 1275.0,1261.0 1276.0,1238.4 1277.0,1249.7 1278.0,1272.3 1279.0,1272.3 1280.0,1261.0 1281.0,1249.7 1282.0,1238.4 1283.0,1261.0 1284.0,1249.7 1285.0,1249.7 1286.0,1238.4 1287.0,1249.7 1288.0,1249.7 1289.0,1261.0 1290.0,1272.3 1291.0,1261.0 1292.0,1227.1 1293.0,1238.4 1294.0,1227.1 1295.0,1238.4 1296.0,1261.0 1297.0,1261.0 1298.0,1249.7 1299.0,1261.0 1300.0,1238.4 1301.0,1238.4 1302.0,1238.4 1303.0,1238.4 1304.0,1272.3 1305.0,1238.4 1306.0,1272.3 1307.0,1272.3 1308.0,1249.7 1309.0,1249.7 1310.0,1249.7 1311.0,1249.7 1312.0,1261.0 1313.0,1249.7 1314.0,1272.3 1315.0,1272.3 1316.0,1261.0 1317.0,1261.0 1318.0,1249.7 1319.0,1261.0 1320.0,1238.4 1321.0,1261.0 1322.0,1261.0 1323.0,1238.4 1324.0,1283.6 1325.0,1238.4 1326.0,1238.4 1327.0,1261.0 1328.0,1227.1 1329.0,1249.7 1330.0,1238.4 1331.0,1238.4 1332.0,1249.7 1333.0,1261.0 1334.0,1272.3 1335.0,1261.0 1336.0,1272.3 1337.0,1261.0 1338.0,1249.7 1339.0,1272.3 1340.0,1249.7 1341.0,1249.7 1342.0,1272.3 1343.0,1261.0 1344.0,1261.0 1345.0,1261.0 1346.0,1261.0 1347.0,1238.4 1348.0,1249.7 1349.0,1238.4 1350.0,1261.0 1351.0,1249.7 1352.0,1272.3 1353.0,1261.0 1354.0,1249.7 1355.0,1249.7 1356.0,1238.4 1357.0,1261.0 1358.0,1261.0 1359.0,1261.0 1360.0,1227.1 1361.0,1249.7 1362.0,1261.0 1363.0,1261.0 1364.0,1272.3 1365.0,1238.4 1366.0,1261.0 1367.0,1249.7 1368.0,1261.0 1369.0,1261.0 1370.0,1261.0 1371.0,1249.7 1372.0,1261.0 1373.0,1238.4 1374.0,1238.4 1375.0,1261.0 1376.0,1249.7 1377.0,1238.4 1378.0,1249.7 1379.0,1261.0 1380.0,1272.3 1381.0,1272.3 1382.0,1261.0 1383.0,1227.1 1384.0,1249.7 1385.0,1261.0 1386.0,1261.0 1387.0,1261.0 1388.0,1249.7 1389.0,1283.6 1390.0,1272.3 1391.0,1249.7 1392.0,1238.4 1393.0,1283.6 1394.0,1249.7 1395.0,1272.3 1396.0,1283.6 1397.0,1238.4 1398.0,1261.0 1399.0,1249.7 1400.0,1261.0 1401.0,1261.0 1402.0,1283.6 1403.0,1261.0 1404.0,1249.7 1405.0,1272.3 1406.0,1249.7 1407.0,1249.7 1408.0,1283.6 1409.0,1238.4 1410.0,1249.7 1411.0,1249.7 1412.0,1238.4 1413.0,1215.8 1414.0,1261.0 1415.0,1227.1 1416.0,1227.1 1417.0,1204.5 1418.0,1227.1 1419.0,1227.1 1420.0,1249.7 1421.0,1283.6 1422.0,1261.0 1423.0,1261.0 1424.0,1238.4 1425.0,1249.7 1426.0,1238.4 1427.0,1261.0 1428.0,1249.7 1429.0,1249.7 1430.0,1249.7 1431.0,1249.7 1432.0,1238.4 1433.0,1261.0 1434.0,1238.4 1435.0,1238.4 1436.0,1249.7 1437.0,1249.7 1438.0,1261.0 1439.0,1272.3 1440.0,1261.0 1441.0,1261.0 1442.0,1249.7 1443.0,1261.0 1444.0,1227.1 1445.0,1261.0 1446.0,1238.4 1447.0,1238.4 1448.0,1249.7 1449.0,1249.7 1450.0,1261.0 1451.0,1272.3 1452.0,1227.1 1453.0,1249.7 1454.0,1283.6 1455.0,1261.0 1456.0,1272.3 1457.0,1249.7 1458.0,1238.4 1459.0,1238.4 1460.0,1261.0 1461.0,1261.0 1462.0,1238.4 1463.0,1249.7 1464.0,1249.7 1465.0,1227.1 1466.0,1238.4 1467.0,1272.3 1468.0,1272.3 1469.0,1249.7 1470.0,1272.3 1471.0,1238.4 1472.0,1227.1 1473.0,1215.8 1474.0,1261.0 1475.0,1238.4 1476.0,1272.3 1477.0,1249.7 1478.0,1238.4 1479.0,1215.8 1480.0,1261.0 1481.0,1227.1 1482.0,1227.1 1483.0,1204.5 1484.0,1249.7 1485.0,1249.7 1486.0,1227.1 1487.0,1227.1 1488.0,1238.4 1489.0,1249.7 1490.0,1227.1 1491.0,1249.7 1492.0,1227.1 1493.0,1215.8 1494.0,1227.1 1495.0,1193.2 1496.0,1215.8 1497.0,1249.7 1498.0,1238.4 1499.0,1215.8 1500.0,1238.4 1501.0,1204.5 1502.0,1227.1 1503.0,1238.4 1504.0,1249.7 1505.0,1227.1 1506.0,1249.7 1507.0,1261.0 1508.0,1238.4 1509.0,1249.7 1510.0,1215.8 1511.0,1215.8 1512.0,1249.7 1513.0,1249.7 1514.0,1249.7 1515.0,1238.4 1516.0,1238.4 1517.0,1261.0 1518.0,1272.3 1519.0,1249.7 1520.0,1227.1 1521.0,1261.0 1522.0,1261.0 1523.0,1261.0 1524.0,1249.7 1525.0,1283.6 1526.0,1249.7 1527.0,1261.0 1528.0,1227.1 1529.0,1249.7 1530.0,1249.7 1531.0,1249.7 1532.0,1261.0 1533.0,1249.7 1534.0,1272.3 1535.0,1238.4 1536.0,1249.7 1537.0,1261.0 1538.0,1238.4 1539.0,1261.0 1540.0,1261.0 1541.0,1249.7 1542.0,1283.6 1543.0,1261.0 1544.0,1261.0 1545.0,1238.4 1546.0,1238.4 1547.0,1249.7 1548.0,1249.7 1549.0,1249.7 1550.0,1261.0 1551.0,1227.1 1552.0,1238.4 1553.0,1238.4 1554.0,1272.3 1555.0,1249.7 1556.0,1249.7 1557.0,1238.4 1558.0,1272.3 1559.0,1249.7 1560.0,1261.0 1561.0,1227.1 1562.0,1272.3 1563.0,1261.0 1564.0,1261.0 1565.0,1272.3 1566.0,1249.7 1567.0,1249.7 1568.0,1261.0 1569.0,1261.0 1570.0,1249.7 1571.0,1261.0 1572.0,1249.7 1573.0,1261.0 1574.0,1272.3 1575.0,1261.0 1576.0,1283.6 1577.0,1238.4 1578.0,1249.7 1579.0,1283.6 1580.0,1249.7 1581.0,1238.4 1582.0,1272.3 1583.0,1261.0 1584.0,1238.4 1585.0,1272.3 1586.0,1249.7 1587.0,1238.4 1588.0,1261.0 1589.0,1249.7 1590.0,1238.4 1591.0,1249.7 1592.0,1249.7 1593.0,1261.0 1594.0,1261.0 1595.0,1272.3 1596.0,1249.7 1597.0,1238.4 1598.0,1238.4 1599.0,1249.7 1600.0,1272.3 1601.0,1272.3 1602.0,1249.7 1603.0,1272.3 1604.0,1238.4 1605.0,1272.3 1606.0,1249.7 1607.0,1272.3 1608.0,1261.0 1609.0,1249.7 1610.0,1261.0 1611.0,1249.7 1612.0,1261.0 1613.0,1272.3 1614.0,1300.0 1615.0,1272.3 1616.0,1261.0 1617.0,1249.7 1618.0,1272.3 1619.0,1238.4 1620.0,1249.7 1621.0,1261.0 1622.0,1238.4 1623.0,1272.3 1624.0,1272.3 1625.0,1249.7 1626.0,1249.7 1627.0,1238.4 1628.0,1238.4 1629.0,1261.0 1630.0,1261.0 1631.0,1261.0 1632.0,1261.0 1633.0,1249.7 1634.0,1261.0 1635.0,1238.4 1636.0,1261.0 1637.0,1272.3 1638.0,1272.3 1639.0,1249.7 1640.0,1249.7 1641.0,1272.3 1642.0,1283.6 1643.0,1238.4 1644.0,1249.7 1645.0,1261.0 1646.0,1272.3 1647.0,1249.7 1648.0,1261.0 1649.0,1249.7 1650.0,1283.6 1651.0,1261.0 1652.0,1261.0 1653.0,1249.7 1654.0,1272.3 1655.0,1272.3 1656.0,1249.7 1657.0,1261.0 1658.0,1238.4 1659.0,1249.7 1660.0,1238.4 1661.0,1238.4 1662.0,1249.7 1663.0,1249.7 1664.0,1261.0 1665.0,1272.3 1666.0,1261.0 1667.0,1249.7 1668.0,1272.3 1669.0,1238.4 1670.0,1238.4 1671.0,1272.3 1672.0,1272.3 1673.0,1272.3 1674.0,1261.0 1675.0,1238.4 1676.0,1249.7 1677.0,1261.0 1678.0,1249.7 1679.0,1249.7 1680.0,1238.4 1681.0,1249.7 1682.0,1272.3 1683.0,1261.0 1684.0,1249.7 1685.0,1249.7 1686.0,1249.7 1687.0,1261.0 1688.0,1249.7 1689.0,1261.0 1690.0,1227.1 1691.0,1238.4 1692.0,1261.0 1693.0,1272.3 1694.0,1249.7 1695.0,1249.7 1696.0,1272.3 1697.0,1249.7 1698.0,1249.7 1699.0,1261.0 1700.0,1261.0 1701.0,1272.3 1702.0,1272.3 1703.0,1249.7 1704.0,1261.0 1705.0,1261.0 1706.0,1238.4 1707.0,1249.7 1708.0,1272.3 1709.0,1238.4 1710.0,1272.3 1711.0,1261.0 1712.0,1261.0 1713.0,1261.0 1714.0,1261.0 1715.0,1272.3 1716.0,1249.7 1717.0,1261.0 1718.0,1261.0 1719.0,1283.6 1720.0,1272.3 1721.0,1249.7 1722.0,1249.7 1723.0,1249.7 1724.0,1261.0 1725.0,1261.0 1726.0,1283.6 1727.0,1238.4 1728.0,1272.3 1729.0,1261.0" fill="none" stroke="#00f" stroke-width="2.1" stroke-linejoin="round"/>
<rect x="226.7" y="1476.4" width="1524.3" height="1239.3" fill="none" stroke="#000" stroke-width="4.5" stroke-linejoin="round"/>
<path d="M353.5 2715.7v-22.3M480.6 2715.7v-11.8M607.6 2715.7v-22.3M734.7 2715.7v-11.8M861.7 2715.7v-22.3M988.8 2715.7v-11.8M1115.9 2715.7v-22.3M1242.9 2715.7v-11.8M1370 2715.7v-22.3M1497 2715.7v-11.8M1624.1 2715.7v-22.3M226.7 2591.8h22.3M226.7 2467.9h11.8M226.7 2343.9h22.3M226.7 2220h11.8M226.7 2096.1h22.3M226.7 1972.2h11.8M226.7 1848.3h22.3M226.7 1724.3h11.8M226.7 1600.4h22.3" stroke="#000" stroke-width="4.2" fill="none" stroke-linecap="round"/>
<text x="353.5" y="2777.5" font-size="46" text-anchor="middle">0.0</text>
<text x="607.6" y="2777.5" font-size="46" text-anchor="middle">0.2</text>
<text x="861.7" y="2777.5" font-size="46" text-anchor="middle">0.4</text>
<text x="1115.9" y="2777.5" font-size="46" text-anchor="middle">0.6</text>
<text x="1370" y="2777.5" font-size="46" text-anchor="middle">0.8</text>
<text x="1624.1" y="2777.5" font-size="46" text-anchor="middle">1.0</text>
<text x="201" y="2604.8" font-size="47" text-anchor="end">-200</text>
<text x="201" y="2356.9" font-size="47" text-anchor="end">0</text>
<text x="201" y="2109.1" font-size="47" text-anchor="end">200</text>
<text x="201" y="1861.3" font-size="47" text-anchor="end">400</text>
<text x="201" y="1613.4" font-size="47" text-anchor="end">600</text>
<text x="685.8" y="2867" font-size="57">Relative pressure (P/P<tspan font-size="34.5" dy="23">0</tspan><tspan dy="-23">)</tspan></text>
<text transform="translate(67 2139.6) rotate(-90)" font-size="57.3" text-anchor="middle">Volume (cm<tspan font-size="34.5" dy="-23">3</tspan><tspan dy="23">/g STP)</tspan></text>
<text x="86.4" y="1536" font-size="78.5">(b)</text>
<path d="M1335.8 2022.7L1338.7 2020.2M1391.9 1979L1407.5 1946.2M1425.1 1912.6L1437.6 1890.5M1457 1857.8L1476.5 1826.2M1496.9 1794.1L1517 1763.7M1536.4 1731.1L1549.7 1706.4M1565.6 1672L1571.6 1656.4M1588.5 1622.6L1600.9 1602.6M1596.5 1598.9L1584.3 1609.5M1557.5 1636.3L1556.2 1638M1532.8 1667.9L1526.9 1676M1483.1 1736.9L1469.8 1752.6M1445.2 1781.6L1433.3 1795.5M1412.1 1826.8L1399.3 1850.9M1377.4 1881.5L1372.5 1886.6M1349.8 1916.8L1334.6 1942.5M1314.3 1974.7L1302.7 1992.2M1279.5 2022.2L1273.6 2028.7M1245.9 2054.4L1244.6 2055.3" fill="none" stroke="#f00" stroke-width="2.7"/>
<g fill="#f00"><circle cx="365.9" cy="2272.7" r="14.5"/><circle cx="398.8" cy="2256.5" r="14.5"/><circle cx="430.5" cy="2247.6" r="14.5"/><circle cx="440.7" cy="2243.4" r="14.5"/><circle cx="462.9" cy="2238.6" r="14.5"/><circle cx="493.4" cy="2232.6" r="14.5"/><circle cx="525.7" cy="2225.4" r="14.5"/><circle cx="557.4" cy="2220.6" r="14.5"/><circle cx="589.1" cy="2214.6" r="14.5"/><circle cx="621.4" cy="2209.3" r="14.5"/><circle cx="653.2" cy="2203.9" r="14.5"/><circle cx="684.9" cy="2199.7" r="14.5"/><circle cx="717.2" cy="2193.7" r="14.5"/><circle cx="748.9" cy="2188.9" r="14.5"/><circle cx="780.6" cy="2184.7" r="14.5"/><circle cx="811.7" cy="2179.3" r="14.5"/><circle cx="843.5" cy="2174.6" r="14.5"/><circle cx="875.8" cy="2169.8" r="14.5"/><circle cx="908.1" cy="2164.4" r="14.5"/><circle cx="940.4" cy="2157.8" r="14.5"/><circle cx="972.1" cy="2152.4" r="14.5"/><circle cx="1005" cy="2145.8" r="14.5"/><circle cx="1036.2" cy="2138.6" r="14.5"/><circle cx="1068.5" cy="2132" r="14.5"/><circle cx="1100.2" cy="2124" r="14.5"/><circle cx="1130.8" cy="2117.7" r="14.5"/><circle cx="1163.3" cy="2107.8" r="14.5"/><circle cx="1194.6" cy="2099.7" r="14.5"/><circle cx="1226.5" cy="2088.7" r="14.5"/><circle cx="1258.4" cy="2073.8" r="14.5"/><circle cx="1290.3" cy="2056.4" r="14.5"/><circle cx="1321.3" cy="2034.9" r="14.5"/><circle cx="1353.2" cy="2008" r="14.5"/><circle cx="1383.7" cy="1996.1" r="14.5"/><circle cx="1415.7" cy="1929.1" r="14.5"/><circle cx="1447" cy="1874" r="14.5"/><circle cx="1486.5" cy="1810" r="14.5"/><circle cx="1527.4" cy="1747.8" r="14.5"/><circle cx="1558.7" cy="1689.7" r="14.5"/><circle cx="1578.5" cy="1638.7" r="14.5"/><circle cx="1610.9" cy="1586.5" r="14.5"/><circle cx="1610.9" cy="1586.5" r="14.5"/><circle cx="1569.9" cy="1621.9" r="14.5"/><circle cx="1543.8" cy="1652.4" r="14.5"/><circle cx="1515.9" cy="1691.5" r="14.5"/><circle cx="1495.4" cy="1722.4" r="14.5"/><circle cx="1457.5" cy="1767.1" r="14.5"/><circle cx="1421" cy="1810" r="14.5"/><circle cx="1390.4" cy="1867.7" r="14.5"/><circle cx="1359.5" cy="1900.4" r="14.5"/><circle cx="1324.9" cy="1958.9" r="14.5"/><circle cx="1292.1" cy="2008" r="14.5"/><circle cx="1261" cy="2042.9" r="14.5"/><circle cx="1229.5" cy="2066.8" r="14.5"/><circle cx="1197.6" cy="2085.8" r="14.5"/><circle cx="1164.6" cy="2100" r="14.5"/><circle cx="1132.2" cy="2109.7" r="14.5"/><circle cx="1101" cy="2121" r="14.5"/><circle cx="1069" cy="2130" r="14.5"/></g>
<rect x="394.4" y="1506.6" width="622.5" height="520.0" fill="none" stroke="#000" stroke-width="2.2"/>
<path d="M456.6 2026.6v-5M518.9 2026.6v-10M581.1 2026.6v-5M643.4 2026.6v-10M705.6 2026.6v-5M767.9 2026.6v-10M830.1 2026.6v-5M892.4 2026.6v-10M954.6 2026.6v-5M394.4 2012.2h10M394.4 1939.9h5M394.4 1867.7h10M394.4 1795.5h5M394.4 1723.3h10M394.4 1651h5M394.4 1578.8h10" stroke="#000" stroke-width="2.5" fill="none"/>
<text x="394.4" y="2066.2" font-size="37.4" text-anchor="middle">0</text>
<text x="518.9" y="2066.2" font-size="37.4" text-anchor="middle">20</text>
<text x="643.4" y="2066.2" font-size="37.4" text-anchor="middle">40</text>
<text x="767.9" y="2066.2" font-size="37.4" text-anchor="middle">60</text>
<text x="892.4" y="2066.2" font-size="37.4" text-anchor="middle">80</text>
<text x="1016.9" y="2066.2" font-size="37.4" text-anchor="middle">100</text>
<text x="384.5" y="2022" font-size="37.2" text-anchor="end">0.0</text>
<text x="384.5" y="1877.5" font-size="37.2" text-anchor="end">0.2</text>
<text x="384.5" y="1733.1" font-size="37.2" text-anchor="end">0.4</text>
<text x="384.5" y="1588.6" font-size="37.2" text-anchor="end">0.6</text>
<text x="706" y="2120.7" font-size="50" text-anchor="middle">Pore size (nm)</text>
<text transform="translate(302.2 1804.3) rotate(-90)" font-size="49.6" text-anchor="middle">dV/dlog(D) (cm<tspan font-size="30" dy="-20">3</tspan><tspan dy="20">/g.nm)</tspan></text>
<path d="M431.5 1923L432 1921.5M442 1851.9L442.8 1843.8M444.8 1817.9L446.1 1788.3M447.7 1762.3L450.7 1724.7M452.4 1698.7L455.3 1643.8M456.9 1617.9L460.1 1570.1M464.6 1569.7L464.9 1570.7M469.4 1596.1L473.8 1655.4M476 1681.3L481.5 1737.1M485.9 1762.6L489.1 1775.6M497.8 1800L500.1 1804.7M510.2 1828.7L517.6 1849M527.6 1872.9L538.8 1896.4M550.9 1919.4L565.9 1945.3M584.4 1961.7L590.4 1964.4M614 1975.2L623.6 1979.8M648.3 1986.5L713.9 1991.6M739.8 1993.2L907.4 2000.1" fill="none" stroke="#00f" stroke-width="2.4"/>
<g fill="#fff" stroke="#00f" stroke-width="4"><rect x="912.4" y="1992.6" width="16.0" height="16.0"/><rect x="718.8" y="1984.7" width="16.0" height="16.0"/><rect x="627.3" y="1977.4" width="16.0" height="16.0"/><rect x="594.3" y="1961.5" width="16.0" height="16.0"/><rect x="564.4" y="1948.5" width="16.0" height="16.0"/><rect x="536.4" y="1900.2" width="16.0" height="16.0"/><rect x="514" y="1853.2" width="16.0" height="16.0"/><rect x="497.8" y="1808.4" width="16.0" height="16.0"/><rect x="484.1" y="1780.3" width="16.0" height="16.0"/><rect x="474.8" y="1742" width="16.0" height="16.0"/><rect x="466.7" y="1660.4" width="16.0" height="16.0"/><rect x="460.5" y="1575.2" width="16.0" height="16.0"/><rect x="453" y="1549.2" width="16.0" height="16.0"/><rect x="448" y="1622.8" width="16.0" height="16.0"/><rect x="443.7" y="1703.7" width="16.0" height="16.0"/><rect x="438.7" y="1767.3" width="16.0" height="16.0"/><rect x="436.5" y="1879.6" width="16.0" height="16.0"/><rect x="436.2" y="1822.9" width="16.0" height="16.0"/><rect x="432.6" y="1856.8" width="16.0" height="16.0"/><rect x="427.2" y="1900.9" width="16.0" height="16.0"/><rect x="425.6" y="1879.6" width="16.0" height="16.0"/><rect x="423.1" y="1882.8" width="16.0" height="16.0"/><rect x="420.3" y="1927.6" width="16.0" height="16.0"/><rect x="418.8" y="1956.5" width="16.0" height="16.0"/><rect x="418.5" y="1944.9" width="16.0" height="16.0"/><rect x="417.5" y="1960.8" width="16.0" height="16.0"/><rect x="416.3" y="1957.9" width="16.0" height="16.0"/><rect x="413.2" y="1959.4" width="16.0" height="16.0"/><rect x="410.7" y="1960.8" width="16.0" height="16.0"/><rect x="407.6" y="1962.3" width="16.0" height="16.0"/><rect x="404.5" y="1965.9" width="16.0" height="16.0"/></g>
<rect x="1135.6" y="2171.2" width="573.2" height="445.4" fill="#fff" stroke="#000" stroke-width="1.8"/>
<path d="M1192.9 2616.6v-4M1250.2 2616.6v-7M1307.6 2616.6v-4M1364.9 2616.6v-7M1422.2 2616.6v-4M1479.5 2616.6v-7M1536.8 2616.6v-4M1594.2 2616.6v-7M1651.5 2616.6v-4M1135.6 2604.2h7M1135.6 2542.4h4M1135.6 2480.5h7M1135.6 2418.6h4M1135.6 2356.8h7M1135.6 2294.9h4M1135.6 2233.1h7" stroke="#000" stroke-width="2" fill="none"/>
<text x="1135.6" y="2645.6" font-size="26" text-anchor="middle">0</text>
<text x="1250.2" y="2645.6" font-size="26" text-anchor="middle">20</text>
<text x="1364.9" y="2645.6" font-size="26" text-anchor="middle">40</text>
<text x="1479.5" y="2645.6" font-size="26" text-anchor="middle">60</text>
<text x="1594.2" y="2645.6" font-size="26" text-anchor="middle">80</text>
<text x="1708.8" y="2645.6" font-size="26" text-anchor="middle">100</text>
<text x="1128" y="2613.6" font-size="26.5" text-anchor="end">0.0</text>
<text x="1128" y="2489.9" font-size="26.5" text-anchor="end">0.2</text>
<text x="1128" y="2366.2" font-size="26.5" text-anchor="end">0.4</text>
<text x="1128" y="2242.5" font-size="26.5" text-anchor="end">0.6</text>
<text x="1435" y="2683.5" font-size="36.5" text-anchor="middle">Pore size (nm)</text>
<text transform="translate(1066 2423) rotate(-90)" font-size="37.5" text-anchor="middle">dV/dlog(D) (cm<tspan font-size="22" dy="-15">3</tspan><tspan dy="15">/g.nm)</tspan></text>
<path d="M1167 2527.9L1168.4 2486.9M1173.7 2444.4L1174.3 2436.2M1175.5 2412.2L1177 2366.9M1178.7 2343L1180.8 2321.7M1183.3 2297.8L1184.8 2282.7M1187.8 2258.9L1188.8 2252.3M1192.9 2228.7L1194.6 2220.1M1205.2 2228.9L1212.7 2336.8M1216.8 2360.3L1221.2 2375.6M1227.4 2398.7L1235.3 2429.9M1240.9 2453.2L1256.1 2517.7M1266 2539L1280.9 2558.7M1299.9 2570.1L1325.5 2574M1349.3 2577.1L1417.7 2584.4M1441.6 2586.2L1622.3 2595" fill="none" stroke="#800080" stroke-width="2.2"/>
<g fill="#fff" stroke="#800080" stroke-width="3" stroke-linejoin="round"><path d="M1634.3 2586.7L1642.8 2601.5H1625.8Z"/><path d="M1429.7 2576.8L1438.2 2591.6H1421.2Z"/><path d="M1337.4 2566.9L1345.9 2581.7H1328.9Z"/><path d="M1288.1 2559.5L1296.6 2574.2H1279.6Z"/><path d="M1258.8 2520.5L1267.3 2535.3H1250.3Z"/><path d="M1238.2 2432.7L1246.7 2447.4H1229.7Z"/><path d="M1224.4 2378.3L1232.9 2393H1215.9Z"/><path d="M1213.6 2339.9L1222.1 2354.6H1205.1Z"/><path d="M1204.4 2208.1L1212.9 2222.9H1195.9Z"/><path d="M1196.9 2199.5L1205.4 2214.2H1188.4Z"/><path d="M1190.6 2231.7L1199.1 2246.4H1182.1Z"/><path d="M1186 2262L1194.5 2276.7H1177.5Z"/><path d="M1182 2300.9L1190.5 2315.7H1173.5Z"/><path d="M1177.4 2346.1L1185.9 2360.8H1168.9Z"/><path d="M1175.2 2415.4L1183.7 2430.1H1166.7Z"/><path d="M1172.9 2447.5L1181.4 2462.3H1164.4Z"/><path d="M1168.8 2466.1L1177.3 2480.8H1160.3Z"/><path d="M1166.6 2531.1L1175.1 2545.8H1158.1Z"/><path d="M1164.3 2536.6L1172.8 2551.3H1155.8Z"/><path d="M1162 2539.7L1170.5 2554.4H1153.5Z"/><path d="M1156.8 2523.6L1165.3 2538.4H1148.3Z"/><path d="M1155.7 2545.9L1164.2 2560.6H1147.2Z"/><path d="M1152.8 2560.8L1161.3 2575.5H1144.3Z"/><path d="M1151.6 2575.6L1160.1 2590.3H1143.1Z"/><path d="M1147.1 2585.5L1155.6 2600.2H1138.6Z"/></g>
</svg></body></html>
